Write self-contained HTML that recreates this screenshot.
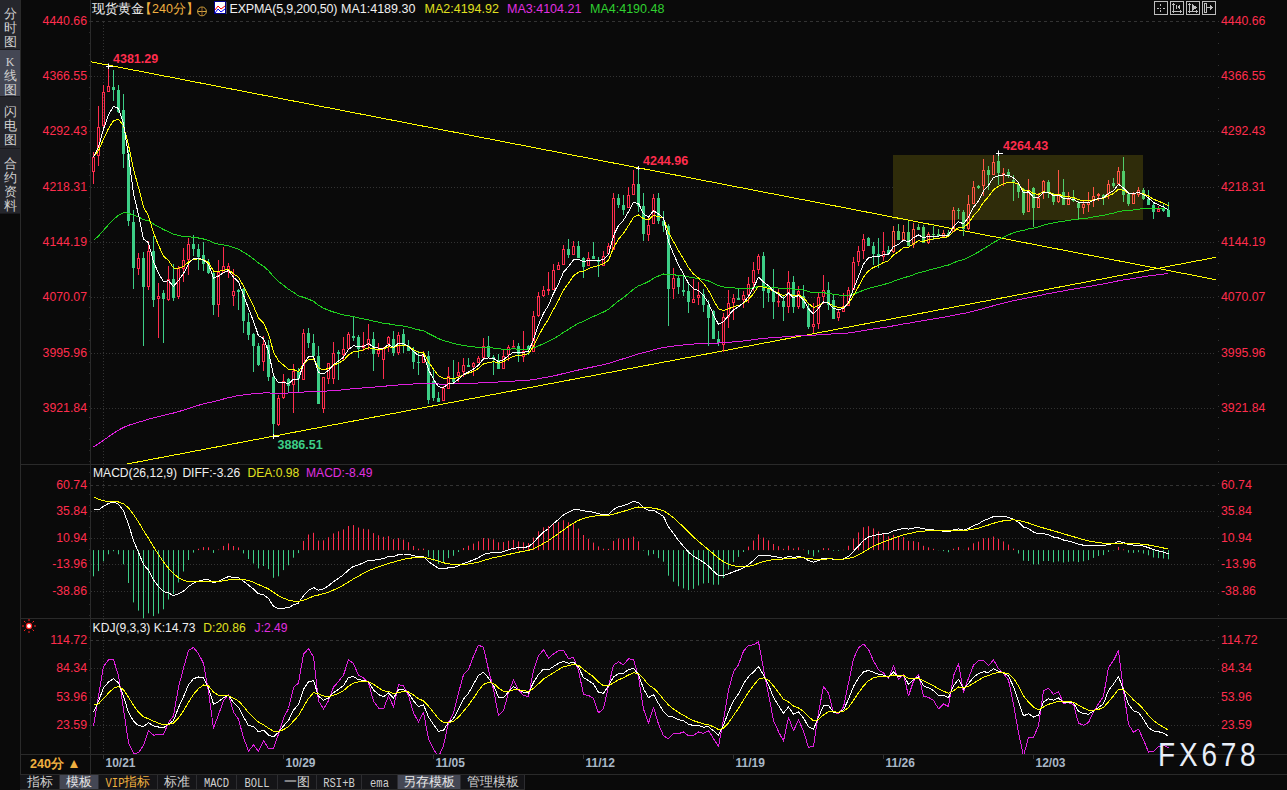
<!DOCTYPE html>
<html><head><meta charset="utf-8">
<style>
*{margin:0;padding:0;box-sizing:border-box}
html,body{width:1287px;height:790px;overflow:hidden;background:#0a0a0a;font-family:"Liberation Sans",sans-serif}
#root{position:relative;width:1287px;height:790px;background:#0a0a0a}
svg{position:absolute;left:0;top:0}
.ll{position:absolute;right:1200px;font-size:12.3px;line-height:14px;color:#ff2d4d;white-space:nowrap}
.rl{position:absolute;left:1221px;font-size:12.3px;line-height:14px;color:#ff2d4d;white-space:nowrap}
.t{position:absolute;white-space:nowrap;font-size:12px;line-height:14px}
.side{position:absolute;left:0;width:20px;color:#d0d0d0;font-size:13px;line-height:14px;text-align:center;padding-top:5px;border-bottom:1px solid #1a1a1e}
.tab{position:absolute;top:775px;height:14px;font-size:12.5px;line-height:15px;color:#cfcfcf;text-align:center;background:#141417;border-right:1px solid #2c2c30}
.date{position:absolute;top:756px;font-size:12px;line-height:14px;font-weight:bold;color:#a9b7c6}
</style></head><body><div id="root">
<svg width="1287" height="790" viewBox="0 0 1287 790">
<defs><clipPath id="mclip"><rect x="91" y="0" width="1127" height="464"/></clipPath><clipPath id="kclip"><rect x="90" y="619" width="1129" height="135"/></clipPath></defs>
<rect x="20" y="0" width="1" height="775" fill="#2a2a2a"/>
<rect x="90" y="0" width="1" height="774" fill="#2a2a2a"/>
<line x1="103.5" y1="22" x2="103.5" y2="754" stroke="#333333" stroke-dasharray="1 2"/>
<line x1="103.5" y1="755" x2="103.5" y2="759" stroke="#333333"/>
<line x1="1218.5" y1="21" x2="1218.5" y2="754" stroke="#333333" stroke-dasharray="1 10"/>
<line x1="89.5" y1="21" x2="89.5" y2="754" stroke="#2a2a2a" stroke-dasharray="1 10"/>
<rect x="20" y="464" width="1267" height="1" fill="#2a2a2a"/>
<rect x="20" y="618" width="1267" height="1" fill="#2a2a2a"/>
<rect x="20" y="754" width="1267" height="1" fill="#2a2a2a"/>
<rect x="20" y="774" width="1267" height="1" fill="#2a2a2a"/><rect x="20" y="789" width="505" height="1" fill="#2a2a2a"/>

<g fill="none" stroke="#bdbdbd" stroke-width="1" shape-rendering="crispEdges">
<rect x="1154.5" y="1.5" width="13" height="13"/><rect x="1170.5" y="1.5" width="13" height="13"/>
<rect x="1186.5" y="1.5" width="13" height="13"/><rect x="1202.5" y="1.5" width="13" height="13"/>
</g>
<g fill="#bdbdbd" shape-rendering="crispEdges">
<rect x="1160" y="4" width="1" height="2"/><rect x="1160" y="10" width="1" height="2"/><rect x="1157" y="8" width="2" height="1"/><rect x="1163" y="8" width="2" height="1"/><rect x="1160" y="8" width="1" height="1"/>
<rect x="1173" y="3" width="1" height="10"/><rect x="1172" y="4" width="3" height="1"/><rect x="1172" y="11" width="10" height="1"/><rect x="1180" y="10" width="1" height="3"/><rect x="1176" y="5" width="1" height="4"/><path d="M1180 4.5L1177 7L1180 9.5Z"/>
<rect x="1189" y="3" width="1" height="10"/><rect x="1188" y="4" width="3" height="1"/><rect x="1188" y="11" width="10" height="1"/><rect x="1196" y="10" width="1" height="3"/><path d="M1192 4L1197 7.5L1192 11Z"/>
<rect x="1204.5" y="3.5" width="2" height="9" fill="none" stroke="#bdbdbd"/><rect x="1207" y="7" width="4" height="1"/><path d="M1210 5L1213 7.5L1210 10Z"/>
</g>
<circle cx="202" cy="11.4" r="4.4" fill="none" stroke="#e0b040" stroke-width="0.9"/>
<line x1="197.5" y1="11.5" x2="206.5" y2="11.5" stroke="#e8b848" stroke-width="0.9"/><line x1="202" y1="7" x2="202" y2="16" stroke="#b07030" stroke-width="0.9"/>
<rect x="215.5" y="2" width="11" height="12" fill="#888"/>
<rect x="214.5" y="1.5" width="11" height="12" fill="#ffffff" stroke="#000088" stroke-width="1"/>
<polyline points="215,10 218,6 221,9 225,6" fill="none" stroke="#ff0000" stroke-width="1"/>
<polyline points="215,13 218,9 221,12 225,9" fill="none" stroke="#0000ff" stroke-width="1"/>
<circle cx="29" cy="626" r="2.6" fill="#ffffff" stroke="#ff2020" stroke-width="1.2"/>
<g stroke="#ff2020" stroke-width="1"><line x1="29" y1="619" x2="29" y2="621"/><line x1="29" y1="631" x2="29" y2="633"/><line x1="22" y1="626" x2="24" y2="626"/><line x1="34" y1="626" x2="36" y2="626"/>
<line x1="24" y1="621" x2="25.5" y2="622.5"/><line x1="32.5" y1="629.5" x2="34" y2="631"/><line x1="34" y1="621" x2="32.5" y2="622.5"/><line x1="24" y1="631" x2="25.5" y2="629.5"/></g>

<line x1="90" y1="21.5" x2="1216" y2="21.5" stroke="#333333" stroke-width="1" stroke-dasharray="3 3"/>
<line x1="91" y1="76.5" x2="1216" y2="76.5" stroke="#333333" stroke-width="1" stroke-dasharray="1 2"/>
<line x1="91" y1="131.5" x2="1216" y2="131.5" stroke="#333333" stroke-width="1" stroke-dasharray="1 2"/>
<line x1="91" y1="187.5" x2="1216" y2="187.5" stroke="#333333" stroke-width="1" stroke-dasharray="1 2"/>
<line x1="91" y1="242.5" x2="1216" y2="242.5" stroke="#333333" stroke-width="1" stroke-dasharray="1 2"/>
<line x1="91" y1="297.5" x2="1216" y2="297.5" stroke="#333333" stroke-width="1" stroke-dasharray="1 2"/>
<line x1="91" y1="353.5" x2="1216" y2="353.5" stroke="#333333" stroke-width="1" stroke-dasharray="1 2"/>
<line x1="91" y1="408.5" x2="1216" y2="408.5" stroke="#333333" stroke-width="1" stroke-dasharray="1 2"/>
<rect x="893" y="155" width="250" height="65" fill="#2f2c0a"/>
<line x1="90" y1="61.6" x2="1216" y2="279.7" stroke="#ffff00" stroke-width="1" shape-rendering="crispEdges" clip-path="url(#mclip)"/>
<line x1="118" y1="465.7" x2="1216" y2="257.3" stroke="#ffff00" stroke-width="1" shape-rendering="crispEdges" clip-path="url(#mclip)"/>
<rect x="93" y="152" width="1" height="5" fill="#ff2d4d"/>
<rect x="93" y="172" width="1" height="12" fill="#ff2d4d"/>
<rect x="92.5" y="157.5" width="2" height="14" fill="none" stroke="#ff2d4d" stroke-width="1"/>
<rect x="98" y="106" width="1" height="21" fill="#ff2d4d"/>
<rect x="98" y="156" width="1" height="10" fill="#ff2d4d"/>
<rect x="97.5" y="127.5" width="2" height="28" fill="none" stroke="#ff2d4d" stroke-width="1"/>
<rect x="103" y="85" width="1" height="7" fill="#ff2d4d"/>
<rect x="103" y="126" width="1" height="1" fill="#ff2d4d"/>
<rect x="102.5" y="92.5" width="2" height="33" fill="none" stroke="#ff2d4d" stroke-width="1"/>
<rect x="108" y="66" width="1" height="20" fill="#ff2d4d"/>
<rect x="107.5" y="86.5" width="2" height="5" fill="none" stroke="#ff2d4d" stroke-width="1"/>
<rect x="113" y="70" width="1" height="31" fill="#3dcf87"/>
<rect x="112" y="87" width="3" height="3" fill="#3dcf87"/>
<rect x="118" y="85" width="1" height="28" fill="#3dcf87"/>
<rect x="117" y="90" width="3" height="22" fill="#3dcf87"/>
<rect x="123" y="94" width="1" height="74" fill="#3dcf87"/>
<rect x="122" y="110" width="3" height="44" fill="#3dcf87"/>
<rect x="128" y="150" width="1" height="76" fill="#3dcf87"/>
<rect x="127" y="154" width="3" height="67" fill="#3dcf87"/>
<rect x="133" y="210" width="1" height="79" fill="#3dcf87"/>
<rect x="132" y="222" width="3" height="46" fill="#3dcf87"/>
<rect x="138" y="253" width="1" height="5" fill="#ff2d4d"/>
<rect x="138" y="269" width="1" height="6" fill="#ff2d4d"/>
<rect x="137.5" y="258.5" width="2" height="10" fill="none" stroke="#ff2d4d" stroke-width="1"/>
<rect x="143" y="252" width="1" height="94" fill="#3dcf87"/>
<rect x="142" y="258" width="3" height="29" fill="#3dcf87"/>
<rect x="148" y="241" width="1" height="10" fill="#ff2d4d"/>
<rect x="148" y="287" width="1" height="3" fill="#ff2d4d"/>
<rect x="147.5" y="251.5" width="2" height="35" fill="none" stroke="#ff2d4d" stroke-width="1"/>
<rect x="153" y="236" width="1" height="71" fill="#3dcf87"/>
<rect x="152" y="251" width="3" height="49" fill="#3dcf87"/>
<rect x="158" y="283" width="1" height="13" fill="#ff2d4d"/>
<rect x="158" y="299" width="1" height="39" fill="#ff2d4d"/>
<rect x="157.5" y="296.5" width="2" height="2" fill="none" stroke="#ff2d4d" stroke-width="1"/>
<rect x="163" y="290" width="1" height="53" fill="#3dcf87"/>
<rect x="162" y="293" width="3" height="6" fill="#3dcf87"/>
<rect x="168" y="266" width="1" height="13" fill="#ff2d4d"/>
<rect x="168" y="300" width="1" height="1" fill="#ff2d4d"/>
<rect x="167.5" y="279.5" width="2" height="20" fill="none" stroke="#ff2d4d" stroke-width="1"/>
<rect x="173" y="264" width="1" height="37" fill="#3dcf87"/>
<rect x="172" y="279" width="3" height="19" fill="#3dcf87"/>
<rect x="178" y="266" width="1" height="2" fill="#ff2d4d"/>
<rect x="178" y="297" width="1" height="2" fill="#ff2d4d"/>
<rect x="177.5" y="268.5" width="2" height="28" fill="none" stroke="#ff2d4d" stroke-width="1"/>
<rect x="183" y="248" width="1" height="12" fill="#ff2d4d"/>
<rect x="183" y="269" width="1" height="13" fill="#ff2d4d"/>
<rect x="182.5" y="260.5" width="2" height="8" fill="none" stroke="#ff2d4d" stroke-width="1"/>
<rect x="188" y="238" width="1" height="6" fill="#ff2d4d"/>
<rect x="188" y="260" width="1" height="15" fill="#ff2d4d"/>
<rect x="187.5" y="244.5" width="2" height="15" fill="none" stroke="#ff2d4d" stroke-width="1"/>
<rect x="193" y="235" width="1" height="21" fill="#3dcf87"/>
<rect x="192" y="244" width="3" height="5" fill="#3dcf87"/>
<rect x="198" y="244" width="1" height="26" fill="#3dcf87"/>
<rect x="197" y="249" width="3" height="8" fill="#3dcf87"/>
<rect x="203" y="242" width="1" height="29" fill="#3dcf87"/>
<rect x="202" y="255" width="3" height="9" fill="#3dcf87"/>
<rect x="208" y="259" width="1" height="15" fill="#3dcf87"/>
<rect x="207" y="262" width="3" height="11" fill="#3dcf87"/>
<rect x="213" y="270" width="1" height="45" fill="#3dcf87"/>
<rect x="212" y="273" width="3" height="32" fill="#3dcf87"/>
<rect x="218" y="260" width="1" height="12" fill="#ff2d4d"/>
<rect x="218" y="305" width="1" height="12" fill="#ff2d4d"/>
<rect x="217.5" y="272.5" width="2" height="32" fill="none" stroke="#ff2d4d" stroke-width="1"/>
<rect x="223" y="247" width="1" height="19" fill="#ff2d4d"/>
<rect x="222.5" y="266.5" width="2" height="6" fill="none" stroke="#ff2d4d" stroke-width="1"/>
<rect x="228" y="263" width="1" height="3" fill="#ff2d4d"/>
<rect x="228" y="271" width="1" height="7" fill="#ff2d4d"/>
<rect x="227.5" y="266.5" width="2" height="4" fill="none" stroke="#ff2d4d" stroke-width="1"/>
<rect x="233" y="269" width="1" height="22" fill="#ff2d4d"/>
<rect x="233" y="296" width="1" height="10" fill="#ff2d4d"/>
<rect x="232.5" y="291.5" width="2" height="4" fill="none" stroke="#ff2d4d" stroke-width="1"/>
<rect x="238" y="289" width="1" height="21" fill="#3dcf87"/>
<rect x="237" y="290" width="3" height="2" fill="#3dcf87"/>
<rect x="243" y="288" width="1" height="45" fill="#3dcf87"/>
<rect x="242" y="289" width="3" height="32" fill="#3dcf87"/>
<rect x="248" y="313" width="1" height="27" fill="#3dcf87"/>
<rect x="247" y="322" width="3" height="13" fill="#3dcf87"/>
<rect x="253" y="333" width="1" height="39" fill="#3dcf87"/>
<rect x="252" y="334" width="3" height="12" fill="#3dcf87"/>
<rect x="258" y="343" width="1" height="23" fill="#3dcf87"/>
<rect x="257" y="346" width="3" height="19" fill="#3dcf87"/>
<rect x="263" y="336" width="1" height="8" fill="#ff2d4d"/>
<rect x="263" y="362" width="1" height="9" fill="#ff2d4d"/>
<rect x="262.5" y="344.5" width="2" height="17" fill="none" stroke="#ff2d4d" stroke-width="1"/>
<rect x="268" y="340" width="1" height="41" fill="#3dcf87"/>
<rect x="267" y="345" width="3" height="32" fill="#3dcf87"/>
<rect x="273" y="374" width="1" height="62" fill="#3dcf87"/>
<rect x="272" y="377" width="3" height="47" fill="#3dcf87"/>
<rect x="278" y="395" width="1" height="3" fill="#ff2d4d"/>
<rect x="278" y="425" width="1" height="1" fill="#ff2d4d"/>
<rect x="277.5" y="398.5" width="2" height="26" fill="none" stroke="#ff2d4d" stroke-width="1"/>
<rect x="283" y="374" width="1" height="7" fill="#ff2d4d"/>
<rect x="283" y="398" width="1" height="1" fill="#ff2d4d"/>
<rect x="282.5" y="381.5" width="2" height="16" fill="none" stroke="#ff2d4d" stroke-width="1"/>
<rect x="288" y="378" width="1" height="14" fill="#3dcf87"/>
<rect x="287" y="379" width="3" height="7" fill="#3dcf87"/>
<rect x="293" y="364" width="1" height="7" fill="#ff2d4d"/>
<rect x="293" y="385" width="1" height="28" fill="#ff2d4d"/>
<rect x="292.5" y="371.5" width="2" height="13" fill="none" stroke="#ff2d4d" stroke-width="1"/>
<rect x="298" y="368" width="1" height="24" fill="#3dcf87"/>
<rect x="297" y="372" width="3" height="7" fill="#3dcf87"/>
<rect x="303" y="329" width="1" height="4" fill="#ff2d4d"/>
<rect x="302.5" y="333.5" width="2" height="46" fill="none" stroke="#ff2d4d" stroke-width="1"/>
<rect x="308" y="328" width="1" height="20" fill="#3dcf87"/>
<rect x="307" y="333" width="3" height="10" fill="#3dcf87"/>
<rect x="313" y="334" width="1" height="22" fill="#3dcf87"/>
<rect x="312" y="343" width="3" height="13" fill="#3dcf87"/>
<rect x="318" y="346" width="1" height="58" fill="#3dcf87"/>
<rect x="317" y="356" width="3" height="48" fill="#3dcf87"/>
<rect x="323" y="409" width="1" height="4" fill="#ff2d4d"/>
<rect x="322.5" y="377.5" width="2" height="31" fill="none" stroke="#ff2d4d" stroke-width="1"/>
<rect x="328" y="379" width="1" height="5" fill="#ff2d4d"/>
<rect x="327.5" y="363.5" width="2" height="15" fill="none" stroke="#ff2d4d" stroke-width="1"/>
<rect x="333" y="342" width="1" height="11" fill="#ff2d4d"/>
<rect x="333" y="379" width="1" height="5" fill="#ff2d4d"/>
<rect x="332.5" y="353.5" width="2" height="25" fill="none" stroke="#ff2d4d" stroke-width="1"/>
<rect x="338" y="350" width="1" height="30" fill="#3dcf87"/>
<rect x="337" y="352" width="3" height="2" fill="#3dcf87"/>
<rect x="343" y="337" width="1" height="12" fill="#ff2d4d"/>
<rect x="343" y="355" width="1" height="5" fill="#ff2d4d"/>
<rect x="342.5" y="349.5" width="2" height="5" fill="none" stroke="#ff2d4d" stroke-width="1"/>
<rect x="348" y="332" width="1" height="2" fill="#ff2d4d"/>
<rect x="347.5" y="334.5" width="2" height="14" fill="none" stroke="#ff2d4d" stroke-width="1"/>
<rect x="353" y="317" width="1" height="24" fill="#3dcf87"/>
<rect x="352" y="336" width="3" height="2" fill="#3dcf87"/>
<rect x="358" y="335" width="1" height="23" fill="#3dcf87"/>
<rect x="357" y="337" width="3" height="12" fill="#3dcf87"/>
<rect x="363" y="332" width="1" height="13" fill="#ff2d4d"/>
<rect x="363" y="348" width="1" height="3" fill="#ff2d4d"/>
<rect x="362.5" y="345.5" width="2" height="2" fill="none" stroke="#ff2d4d" stroke-width="1"/>
<rect x="368" y="324" width="1" height="15" fill="#ff2d4d"/>
<rect x="368" y="344" width="1" height="6" fill="#ff2d4d"/>
<rect x="367.5" y="339.5" width="2" height="4" fill="none" stroke="#ff2d4d" stroke-width="1"/>
<rect x="373" y="332" width="1" height="39" fill="#3dcf87"/>
<rect x="372" y="339" width="3" height="15" fill="#3dcf87"/>
<rect x="378" y="343" width="1" height="7" fill="#ff2d4d"/>
<rect x="378" y="354" width="1" height="3" fill="#ff2d4d"/>
<rect x="377.5" y="350.5" width="2" height="3" fill="none" stroke="#ff2d4d" stroke-width="1"/>
<rect x="383" y="347" width="1" height="1" fill="#ff2d4d"/>
<rect x="383" y="360" width="1" height="19" fill="#ff2d4d"/>
<rect x="382.5" y="348.5" width="2" height="11" fill="none" stroke="#ff2d4d" stroke-width="1"/>
<rect x="388" y="336" width="1" height="1" fill="#ff2d4d"/>
<rect x="388" y="344" width="1" height="8" fill="#ff2d4d"/>
<rect x="387.5" y="337.5" width="2" height="6" fill="none" stroke="#ff2d4d" stroke-width="1"/>
<rect x="393" y="331" width="1" height="25" fill="#3dcf87"/>
<rect x="392" y="339" width="3" height="14" fill="#3dcf87"/>
<rect x="398" y="332" width="1" height="3" fill="#ff2d4d"/>
<rect x="398" y="353" width="1" height="2" fill="#ff2d4d"/>
<rect x="397.5" y="335.5" width="2" height="17" fill="none" stroke="#ff2d4d" stroke-width="1"/>
<rect x="403" y="329" width="1" height="24" fill="#3dcf87"/>
<rect x="402" y="334" width="3" height="11" fill="#3dcf87"/>
<rect x="408" y="340" width="1" height="11" fill="#3dcf87"/>
<rect x="407" y="346" width="3" height="5" fill="#3dcf87"/>
<rect x="413" y="347" width="1" height="22" fill="#3dcf87"/>
<rect x="412" y="350" width="3" height="12" fill="#3dcf87"/>
<rect x="418" y="351" width="1" height="24" fill="#3dcf87"/>
<rect x="417" y="362" width="3" height="1" fill="#3dcf87"/>
<rect x="423" y="351" width="1" height="3" fill="#ff2d4d"/>
<rect x="422.5" y="354.5" width="2" height="8" fill="none" stroke="#ff2d4d" stroke-width="1"/>
<rect x="428" y="351" width="1" height="53" fill="#3dcf87"/>
<rect x="427" y="356" width="3" height="44" fill="#3dcf87"/>
<rect x="433" y="368" width="1" height="33" fill="#3dcf87"/>
<rect x="432" y="381" width="3" height="17" fill="#3dcf87"/>
<rect x="438" y="392" width="1" height="10" fill="#3dcf87"/>
<rect x="437" y="398" width="3" height="4" fill="#3dcf87"/>
<rect x="443" y="386" width="1" height="2" fill="#ff2d4d"/>
<rect x="442.5" y="388.5" width="2" height="12" fill="none" stroke="#ff2d4d" stroke-width="1"/>
<rect x="448" y="367" width="1" height="9" fill="#ff2d4d"/>
<rect x="447.5" y="376.5" width="2" height="12" fill="none" stroke="#ff2d4d" stroke-width="1"/>
<rect x="453" y="360" width="1" height="22" fill="#3dcf87"/>
<rect x="452" y="378" width="3" height="4" fill="#3dcf87"/>
<rect x="458" y="362" width="1" height="10" fill="#ff2d4d"/>
<rect x="458" y="376" width="1" height="6" fill="#ff2d4d"/>
<rect x="457.5" y="372.5" width="2" height="3" fill="none" stroke="#ff2d4d" stroke-width="1"/>
<rect x="463" y="358" width="1" height="7" fill="#ff2d4d"/>
<rect x="463" y="372" width="1" height="5" fill="#ff2d4d"/>
<rect x="462.5" y="365.5" width="2" height="6" fill="none" stroke="#ff2d4d" stroke-width="1"/>
<rect x="468" y="358" width="1" height="9" fill="#3dcf87"/>
<rect x="467" y="365" width="3" height="2" fill="#3dcf87"/>
<rect x="473" y="362" width="1" height="1" fill="#ff2d4d"/>
<rect x="473" y="367" width="1" height="9" fill="#ff2d4d"/>
<rect x="472.5" y="363.5" width="2" height="3" fill="none" stroke="#ff2d4d" stroke-width="1"/>
<rect x="478" y="356" width="1" height="2" fill="#ff2d4d"/>
<rect x="477.5" y="358.5" width="2" height="4" fill="none" stroke="#ff2d4d" stroke-width="1"/>
<rect x="483" y="338" width="1" height="8" fill="#ff2d4d"/>
<rect x="482.5" y="346.5" width="2" height="11" fill="none" stroke="#ff2d4d" stroke-width="1"/>
<rect x="488" y="336" width="1" height="22" fill="#3dcf87"/>
<rect x="487" y="346" width="3" height="11" fill="#3dcf87"/>
<rect x="493" y="355" width="1" height="20" fill="#3dcf87"/>
<rect x="492" y="357" width="3" height="1" fill="#3dcf87"/>
<rect x="498" y="354" width="1" height="15" fill="#3dcf87"/>
<rect x="497" y="360" width="3" height="9" fill="#3dcf87"/>
<rect x="503" y="350" width="1" height="6" fill="#ff2d4d"/>
<rect x="502.5" y="356.5" width="2" height="12" fill="none" stroke="#ff2d4d" stroke-width="1"/>
<rect x="508" y="345" width="1" height="2" fill="#ff2d4d"/>
<rect x="508" y="355" width="1" height="6" fill="#ff2d4d"/>
<rect x="507.5" y="347.5" width="2" height="7" fill="none" stroke="#ff2d4d" stroke-width="1"/>
<rect x="513" y="340" width="1" height="6" fill="#ff2d4d"/>
<rect x="512.5" y="346.5" width="2" height="0.5" fill="none" stroke="#ff2d4d" stroke-width="1"/>
<rect x="518" y="343" width="1" height="19" fill="#3dcf87"/>
<rect x="517" y="346" width="3" height="8" fill="#3dcf87"/>
<rect x="523" y="331" width="1" height="20" fill="#ff2d4d"/>
<rect x="523" y="357" width="1" height="5" fill="#ff2d4d"/>
<rect x="522.5" y="351.5" width="2" height="5" fill="none" stroke="#ff2d4d" stroke-width="1"/>
<rect x="528" y="345" width="1" height="10" fill="#3dcf87"/>
<rect x="527" y="346" width="3" height="4" fill="#3dcf87"/>
<rect x="533" y="311" width="1" height="5" fill="#ff2d4d"/>
<rect x="532.5" y="316.5" width="2" height="35" fill="none" stroke="#ff2d4d" stroke-width="1"/>
<rect x="538" y="292" width="1" height="4" fill="#ff2d4d"/>
<rect x="538" y="316" width="1" height="1" fill="#ff2d4d"/>
<rect x="537.5" y="296.5" width="2" height="19" fill="none" stroke="#ff2d4d" stroke-width="1"/>
<rect x="543" y="286" width="1" height="4" fill="#ff2d4d"/>
<rect x="543" y="296" width="1" height="1" fill="#ff2d4d"/>
<rect x="542.5" y="290.5" width="2" height="5" fill="none" stroke="#ff2d4d" stroke-width="1"/>
<rect x="548" y="272" width="1" height="17" fill="#ff2d4d"/>
<rect x="548" y="291" width="1" height="4" fill="#ff2d4d"/>
<rect x="547.5" y="289.5" width="2" height="1" fill="none" stroke="#ff2d4d" stroke-width="1"/>
<rect x="553" y="264" width="1" height="6" fill="#ff2d4d"/>
<rect x="552.5" y="270.5" width="2" height="19" fill="none" stroke="#ff2d4d" stroke-width="1"/>
<rect x="558" y="262" width="1" height="3" fill="#ff2d4d"/>
<rect x="557.5" y="265.5" width="2" height="4" fill="none" stroke="#ff2d4d" stroke-width="1"/>
<rect x="563" y="245" width="1" height="4" fill="#ff2d4d"/>
<rect x="562.5" y="249.5" width="2" height="15" fill="none" stroke="#ff2d4d" stroke-width="1"/>
<rect x="568" y="239" width="1" height="19" fill="#3dcf87"/>
<rect x="567" y="249" width="3" height="6" fill="#3dcf87"/>
<rect x="573" y="241" width="1" height="5" fill="#ff2d4d"/>
<rect x="572.5" y="246.5" width="2" height="8" fill="none" stroke="#ff2d4d" stroke-width="1"/>
<rect x="578" y="241" width="1" height="17" fill="#3dcf87"/>
<rect x="577" y="246" width="3" height="12" fill="#3dcf87"/>
<rect x="583" y="257" width="1" height="21" fill="#3dcf87"/>
<rect x="582" y="258" width="3" height="9" fill="#3dcf87"/>
<rect x="588" y="252" width="1" height="6" fill="#ff2d4d"/>
<rect x="587.5" y="258.5" width="2" height="7" fill="none" stroke="#ff2d4d" stroke-width="1"/>
<rect x="593" y="242" width="1" height="17" fill="#3dcf87"/>
<rect x="592" y="256" width="3" height="3" fill="#3dcf87"/>
<rect x="598" y="257" width="1" height="20" fill="#3dcf87"/>
<rect x="597" y="260" width="3" height="2" fill="#3dcf87"/>
<rect x="603" y="251" width="1" height="5" fill="#ff2d4d"/>
<rect x="602.5" y="256.5" width="2" height="9" fill="none" stroke="#ff2d4d" stroke-width="1"/>
<rect x="608" y="243" width="1" height="3" fill="#ff2d4d"/>
<rect x="607.5" y="246.5" width="2" height="7" fill="none" stroke="#ff2d4d" stroke-width="1"/>
<rect x="613" y="193" width="1" height="5" fill="#ff2d4d"/>
<rect x="612.5" y="198.5" width="2" height="51" fill="none" stroke="#ff2d4d" stroke-width="1"/>
<rect x="618" y="194" width="1" height="14" fill="#3dcf87"/>
<rect x="617" y="198" width="3" height="7" fill="#3dcf87"/>
<rect x="623" y="195" width="1" height="20" fill="#3dcf87"/>
<rect x="622" y="205" width="3" height="5" fill="#3dcf87"/>
<rect x="628" y="187" width="1" height="8" fill="#ff2d4d"/>
<rect x="627.5" y="195.5" width="2" height="12" fill="none" stroke="#ff2d4d" stroke-width="1"/>
<rect x="633" y="170" width="1" height="14" fill="#ff2d4d"/>
<rect x="632.5" y="184.5" width="2" height="10" fill="none" stroke="#ff2d4d" stroke-width="1"/>
<rect x="638" y="168" width="1" height="44" fill="#3dcf87"/>
<rect x="637" y="184" width="3" height="22" fill="#3dcf87"/>
<rect x="643" y="193" width="1" height="48" fill="#3dcf87"/>
<rect x="642" y="206" width="3" height="28" fill="#3dcf87"/>
<rect x="648" y="217" width="1" height="8" fill="#ff2d4d"/>
<rect x="648" y="235" width="1" height="6" fill="#ff2d4d"/>
<rect x="647.5" y="225.5" width="2" height="9" fill="none" stroke="#ff2d4d" stroke-width="1"/>
<rect x="653" y="194" width="1" height="4" fill="#ff2d4d"/>
<rect x="652.5" y="198.5" width="2" height="25" fill="none" stroke="#ff2d4d" stroke-width="1"/>
<rect x="658" y="193" width="1" height="31" fill="#3dcf87"/>
<rect x="657" y="198" width="3" height="23" fill="#3dcf87"/>
<rect x="663" y="211" width="1" height="21" fill="#3dcf87"/>
<rect x="662" y="221" width="3" height="5" fill="#3dcf87"/>
<rect x="668" y="224" width="1" height="102" fill="#3dcf87"/>
<rect x="667" y="226" width="3" height="63" fill="#3dcf87"/>
<rect x="673" y="268" width="1" height="10" fill="#ff2d4d"/>
<rect x="673" y="289" width="1" height="10" fill="#ff2d4d"/>
<rect x="672.5" y="278.5" width="2" height="10" fill="none" stroke="#ff2d4d" stroke-width="1"/>
<rect x="678" y="276" width="1" height="18" fill="#3dcf87"/>
<rect x="677" y="278" width="3" height="9" fill="#3dcf87"/>
<rect x="683" y="274" width="1" height="22" fill="#3dcf87"/>
<rect x="682" y="290" width="3" height="2" fill="#3dcf87"/>
<rect x="688" y="284" width="1" height="29" fill="#3dcf87"/>
<rect x="687" y="291" width="3" height="11" fill="#3dcf87"/>
<rect x="693" y="279" width="1" height="20" fill="#ff2d4d"/>
<rect x="692.5" y="299.5" width="2" height="3" fill="none" stroke="#ff2d4d" stroke-width="1"/>
<rect x="698" y="282" width="1" height="13" fill="#ff2d4d"/>
<rect x="698" y="298" width="1" height="7" fill="#ff2d4d"/>
<rect x="697.5" y="295.5" width="2" height="2" fill="none" stroke="#ff2d4d" stroke-width="1"/>
<rect x="703" y="289" width="1" height="23" fill="#3dcf87"/>
<rect x="702" y="294" width="3" height="11" fill="#3dcf87"/>
<rect x="708" y="300" width="1" height="46" fill="#3dcf87"/>
<rect x="707" y="305" width="3" height="13" fill="#3dcf87"/>
<rect x="713" y="310" width="1" height="29" fill="#3dcf87"/>
<rect x="712" y="311" width="3" height="28" fill="#3dcf87"/>
<rect x="718" y="331" width="1" height="15" fill="#3dcf87"/>
<rect x="717" y="339" width="3" height="4" fill="#3dcf87"/>
<rect x="723" y="313" width="1" height="4" fill="#ff2d4d"/>
<rect x="723" y="345" width="1" height="7" fill="#ff2d4d"/>
<rect x="722.5" y="317.5" width="2" height="27" fill="none" stroke="#ff2d4d" stroke-width="1"/>
<rect x="728" y="290" width="1" height="13" fill="#ff2d4d"/>
<rect x="728" y="317" width="1" height="11" fill="#ff2d4d"/>
<rect x="727.5" y="303.5" width="2" height="13" fill="none" stroke="#ff2d4d" stroke-width="1"/>
<rect x="733" y="294" width="1" height="4" fill="#ff2d4d"/>
<rect x="733" y="303" width="1" height="17" fill="#ff2d4d"/>
<rect x="732.5" y="298.5" width="2" height="4" fill="none" stroke="#ff2d4d" stroke-width="1"/>
<rect x="738" y="288" width="1" height="12" fill="#3dcf87"/>
<rect x="737" y="298" width="3" height="2" fill="#3dcf87"/>
<rect x="743" y="291" width="1" height="4" fill="#ff2d4d"/>
<rect x="743" y="300" width="1" height="8" fill="#ff2d4d"/>
<rect x="742.5" y="295.5" width="2" height="4" fill="none" stroke="#ff2d4d" stroke-width="1"/>
<rect x="748" y="277" width="1" height="7" fill="#ff2d4d"/>
<rect x="748" y="295" width="1" height="8" fill="#ff2d4d"/>
<rect x="747.5" y="284.5" width="2" height="10" fill="none" stroke="#ff2d4d" stroke-width="1"/>
<rect x="753" y="262" width="1" height="8" fill="#ff2d4d"/>
<rect x="753" y="283" width="1" height="8" fill="#ff2d4d"/>
<rect x="752.5" y="270.5" width="2" height="12" fill="none" stroke="#ff2d4d" stroke-width="1"/>
<rect x="758" y="254" width="1" height="2" fill="#ff2d4d"/>
<rect x="758" y="270" width="1" height="4" fill="#ff2d4d"/>
<rect x="757.5" y="256.5" width="2" height="13" fill="none" stroke="#ff2d4d" stroke-width="1"/>
<rect x="763" y="252" width="1" height="56" fill="#3dcf87"/>
<rect x="762" y="256" width="3" height="35" fill="#3dcf87"/>
<rect x="768" y="286" width="1" height="16" fill="#3dcf87"/>
<rect x="767" y="288" width="3" height="5" fill="#3dcf87"/>
<rect x="773" y="269" width="1" height="50" fill="#3dcf87"/>
<rect x="772" y="291" width="3" height="11" fill="#3dcf87"/>
<rect x="778" y="289" width="1" height="12" fill="#ff2d4d"/>
<rect x="778" y="302" width="1" height="5" fill="#ff2d4d"/>
<rect x="777.5" y="301.5" width="2" height="0.5" fill="none" stroke="#ff2d4d" stroke-width="1"/>
<rect x="783" y="295" width="1" height="26" fill="#3dcf87"/>
<rect x="782" y="301" width="3" height="6" fill="#3dcf87"/>
<rect x="788" y="271" width="1" height="11" fill="#ff2d4d"/>
<rect x="788" y="307" width="1" height="6" fill="#ff2d4d"/>
<rect x="787.5" y="282.5" width="2" height="24" fill="none" stroke="#ff2d4d" stroke-width="1"/>
<rect x="793" y="276" width="1" height="37" fill="#3dcf87"/>
<rect x="792" y="282" width="3" height="25" fill="#3dcf87"/>
<rect x="798" y="286" width="1" height="5" fill="#ff2d4d"/>
<rect x="798" y="307" width="1" height="2" fill="#ff2d4d"/>
<rect x="797.5" y="291.5" width="2" height="15" fill="none" stroke="#ff2d4d" stroke-width="1"/>
<rect x="803" y="285" width="1" height="24" fill="#3dcf87"/>
<rect x="802" y="296" width="3" height="12" fill="#3dcf87"/>
<rect x="808" y="304" width="1" height="25" fill="#3dcf87"/>
<rect x="807" y="308" width="3" height="19" fill="#3dcf87"/>
<rect x="813" y="303" width="1" height="21" fill="#ff2d4d"/>
<rect x="813" y="327" width="1" height="6" fill="#ff2d4d"/>
<rect x="812.5" y="324.5" width="2" height="2" fill="none" stroke="#ff2d4d" stroke-width="1"/>
<rect x="818" y="292" width="1" height="5" fill="#ff2d4d"/>
<rect x="818" y="324" width="1" height="5" fill="#ff2d4d"/>
<rect x="817.5" y="297.5" width="2" height="26" fill="none" stroke="#ff2d4d" stroke-width="1"/>
<rect x="823" y="275" width="1" height="15" fill="#ff2d4d"/>
<rect x="823" y="297" width="1" height="7" fill="#ff2d4d"/>
<rect x="822.5" y="290.5" width="2" height="6" fill="none" stroke="#ff2d4d" stroke-width="1"/>
<rect x="828" y="282" width="1" height="28" fill="#3dcf87"/>
<rect x="827" y="290" width="3" height="15" fill="#3dcf87"/>
<rect x="833" y="294" width="1" height="25" fill="#3dcf87"/>
<rect x="832" y="300" width="3" height="19" fill="#3dcf87"/>
<rect x="838" y="310" width="1" height="2" fill="#ff2d4d"/>
<rect x="838" y="318" width="1" height="3" fill="#ff2d4d"/>
<rect x="837.5" y="312.5" width="2" height="5" fill="none" stroke="#ff2d4d" stroke-width="1"/>
<rect x="843" y="293" width="1" height="13" fill="#ff2d4d"/>
<rect x="842.5" y="306.5" width="2" height="5" fill="none" stroke="#ff2d4d" stroke-width="1"/>
<rect x="848" y="287" width="1" height="3" fill="#ff2d4d"/>
<rect x="847.5" y="290.5" width="2" height="15" fill="none" stroke="#ff2d4d" stroke-width="1"/>
<rect x="853" y="257" width="1" height="5" fill="#ff2d4d"/>
<rect x="852.5" y="262.5" width="2" height="27" fill="none" stroke="#ff2d4d" stroke-width="1"/>
<rect x="858" y="246" width="1" height="5" fill="#ff2d4d"/>
<rect x="858" y="262" width="1" height="4" fill="#ff2d4d"/>
<rect x="857.5" y="251.5" width="2" height="10" fill="none" stroke="#ff2d4d" stroke-width="1"/>
<rect x="863" y="234" width="1" height="5" fill="#ff2d4d"/>
<rect x="863" y="251" width="1" height="8" fill="#ff2d4d"/>
<rect x="862.5" y="239.5" width="2" height="11" fill="none" stroke="#ff2d4d" stroke-width="1"/>
<rect x="868" y="237" width="1" height="9" fill="#3dcf87"/>
<rect x="867" y="238" width="3" height="8" fill="#3dcf87"/>
<rect x="873" y="242" width="1" height="23" fill="#3dcf87"/>
<rect x="872" y="246" width="3" height="8" fill="#3dcf87"/>
<rect x="878" y="238" width="1" height="30" fill="#3dcf87"/>
<rect x="877" y="254" width="3" height="3" fill="#3dcf87"/>
<rect x="883" y="232" width="1" height="19" fill="#ff2d4d"/>
<rect x="883" y="257" width="1" height="4" fill="#ff2d4d"/>
<rect x="882.5" y="251.5" width="2" height="5" fill="none" stroke="#ff2d4d" stroke-width="1"/>
<rect x="888" y="246" width="1" height="8" fill="#3dcf87"/>
<rect x="887" y="250" width="3" height="4" fill="#3dcf87"/>
<rect x="893" y="226" width="1" height="5" fill="#ff5544"/>
<rect x="893" y="252" width="1" height="1" fill="#ff5544"/>
<rect x="892.5" y="231.5" width="2" height="20" fill="none" stroke="#ff5544" stroke-width="1"/>
<rect x="898" y="224" width="1" height="16" fill="#52cc6a"/>
<rect x="897" y="231" width="3" height="9" fill="#52cc6a"/>
<rect x="903" y="225" width="1" height="7" fill="#ff5544"/>
<rect x="902.5" y="232.5" width="2" height="7" fill="none" stroke="#ff5544" stroke-width="1"/>
<rect x="908" y="221" width="1" height="25" fill="#52cc6a"/>
<rect x="907" y="232" width="3" height="14" fill="#52cc6a"/>
<rect x="913" y="223" width="1" height="6" fill="#ff5544"/>
<rect x="913" y="245" width="1" height="3" fill="#ff5544"/>
<rect x="912.5" y="229.5" width="2" height="15" fill="none" stroke="#ff5544" stroke-width="1"/>
<rect x="918" y="224" width="1" height="6" fill="#52cc6a"/>
<rect x="917" y="227" width="3" height="3" fill="#52cc6a"/>
<rect x="923" y="225" width="1" height="18" fill="#52cc6a"/>
<rect x="922" y="227" width="3" height="16" fill="#52cc6a"/>
<rect x="928" y="232" width="1" height="2" fill="#ff5544"/>
<rect x="928" y="243" width="1" height="1" fill="#ff5544"/>
<rect x="927.5" y="234.5" width="2" height="8" fill="none" stroke="#ff5544" stroke-width="1"/>
<rect x="933" y="226" width="1" height="14" fill="#52cc6a"/>
<rect x="932" y="234" width="3" height="1" fill="#52cc6a"/>
<rect x="938" y="229" width="1" height="8" fill="#52cc6a"/>
<rect x="937" y="234" width="3" height="2" fill="#52cc6a"/>
<rect x="943" y="230" width="1" height="3" fill="#ff5544"/>
<rect x="942.5" y="233.5" width="2" height="3" fill="none" stroke="#ff5544" stroke-width="1"/>
<rect x="948" y="230" width="1" height="6" fill="#52cc6a"/>
<rect x="947" y="233" width="3" height="2" fill="#52cc6a"/>
<rect x="953" y="207" width="1" height="3" fill="#ff5544"/>
<rect x="952.5" y="210.5" width="2" height="21" fill="none" stroke="#ff5544" stroke-width="1"/>
<rect x="958" y="208" width="1" height="11" fill="#52cc6a"/>
<rect x="957" y="210" width="3" height="1" fill="#52cc6a"/>
<rect x="963" y="210" width="1" height="26" fill="#52cc6a"/>
<rect x="962" y="212" width="3" height="17" fill="#52cc6a"/>
<rect x="968" y="195" width="1" height="9" fill="#ff5544"/>
<rect x="968" y="229" width="1" height="1" fill="#ff5544"/>
<rect x="967.5" y="204.5" width="2" height="24" fill="none" stroke="#ff5544" stroke-width="1"/>
<rect x="973" y="181" width="1" height="6" fill="#ff5544"/>
<rect x="972.5" y="187.5" width="2" height="16" fill="none" stroke="#ff5544" stroke-width="1"/>
<rect x="978" y="185" width="1" height="4" fill="#52cc6a"/>
<rect x="977" y="186" width="3" height="2" fill="#52cc6a"/>
<rect x="983" y="159" width="1" height="11" fill="#ff5544"/>
<rect x="983" y="186" width="1" height="10" fill="#ff5544"/>
<rect x="982.5" y="170.5" width="2" height="15" fill="none" stroke="#ff5544" stroke-width="1"/>
<rect x="988" y="166" width="1" height="24" fill="#52cc6a"/>
<rect x="987" y="170" width="3" height="5" fill="#52cc6a"/>
<rect x="993" y="155" width="1" height="7" fill="#ff5544"/>
<rect x="992.5" y="162.5" width="2" height="12" fill="none" stroke="#ff5544" stroke-width="1"/>
<rect x="998" y="153" width="1" height="32" fill="#52cc6a"/>
<rect x="997" y="161" width="3" height="12" fill="#52cc6a"/>
<rect x="1003" y="168" width="1" height="5" fill="#ff5544"/>
<rect x="1003" y="175" width="1" height="11" fill="#ff5544"/>
<rect x="1002.5" y="173.5" width="2" height="1" fill="none" stroke="#ff5544" stroke-width="1"/>
<rect x="1008" y="169" width="1" height="9" fill="#52cc6a"/>
<rect x="1007" y="172" width="3" height="4" fill="#52cc6a"/>
<rect x="1013" y="175" width="1" height="26" fill="#52cc6a"/>
<rect x="1012" y="180" width="3" height="3" fill="#52cc6a"/>
<rect x="1018" y="183" width="1" height="15" fill="#52cc6a"/>
<rect x="1017" y="184" width="3" height="8" fill="#52cc6a"/>
<rect x="1023" y="188" width="1" height="27" fill="#52cc6a"/>
<rect x="1022" y="189" width="3" height="24" fill="#52cc6a"/>
<rect x="1028" y="179" width="1" height="11" fill="#ff5544"/>
<rect x="1027.5" y="190.5" width="2" height="21" fill="none" stroke="#ff5544" stroke-width="1"/>
<rect x="1033" y="187" width="1" height="40" fill="#52cc6a"/>
<rect x="1032" y="188" width="3" height="20" fill="#52cc6a"/>
<rect x="1038" y="193" width="1" height="5" fill="#ff5544"/>
<rect x="1037.5" y="198.5" width="2" height="9" fill="none" stroke="#ff5544" stroke-width="1"/>
<rect x="1043" y="180" width="1" height="1" fill="#ff5544"/>
<rect x="1043" y="193" width="1" height="6" fill="#ff5544"/>
<rect x="1042.5" y="181.5" width="2" height="11" fill="none" stroke="#ff5544" stroke-width="1"/>
<rect x="1048" y="180" width="1" height="18" fill="#52cc6a"/>
<rect x="1047" y="182" width="3" height="11" fill="#52cc6a"/>
<rect x="1053" y="193" width="1" height="12" fill="#52cc6a"/>
<rect x="1052" y="195" width="3" height="7" fill="#52cc6a"/>
<rect x="1058" y="170" width="1" height="24" fill="#ff5544"/>
<rect x="1058" y="202" width="1" height="1" fill="#ff5544"/>
<rect x="1057.5" y="194.5" width="2" height="7" fill="none" stroke="#ff5544" stroke-width="1"/>
<rect x="1063" y="179" width="1" height="26" fill="#52cc6a"/>
<rect x="1062" y="192" width="3" height="13" fill="#52cc6a"/>
<rect x="1068" y="192" width="1" height="7" fill="#ff5544"/>
<rect x="1067.5" y="199.5" width="2" height="5" fill="none" stroke="#ff5544" stroke-width="1"/>
<rect x="1073" y="190" width="1" height="12" fill="#52cc6a"/>
<rect x="1072" y="197" width="3" height="4" fill="#52cc6a"/>
<rect x="1078" y="201" width="1" height="18" fill="#52cc6a"/>
<rect x="1077" y="203" width="3" height="5" fill="#52cc6a"/>
<rect x="1083" y="200" width="1" height="4" fill="#ff5544"/>
<rect x="1083" y="208" width="1" height="6" fill="#ff5544"/>
<rect x="1082.5" y="204.5" width="2" height="3" fill="none" stroke="#ff5544" stroke-width="1"/>
<rect x="1088" y="192" width="1" height="10" fill="#ff5544"/>
<rect x="1088" y="205" width="1" height="7" fill="#ff5544"/>
<rect x="1087.5" y="202.5" width="2" height="2" fill="none" stroke="#ff5544" stroke-width="1"/>
<rect x="1093" y="187" width="1" height="9" fill="#ff5544"/>
<rect x="1093" y="201" width="1" height="6" fill="#ff5544"/>
<rect x="1092.5" y="196.5" width="2" height="4" fill="none" stroke="#ff5544" stroke-width="1"/>
<rect x="1098" y="193" width="1" height="1" fill="#ff5544"/>
<rect x="1098" y="196" width="1" height="5" fill="#ff5544"/>
<rect x="1097.5" y="194.5" width="2" height="1" fill="none" stroke="#ff5544" stroke-width="1"/>
<rect x="1103" y="194" width="1" height="11" fill="#52cc6a"/>
<rect x="1102" y="195" width="3" height="2" fill="#52cc6a"/>
<rect x="1108" y="180" width="1" height="4" fill="#ff5544"/>
<rect x="1108" y="194" width="1" height="5" fill="#ff5544"/>
<rect x="1107.5" y="184.5" width="2" height="9" fill="none" stroke="#ff5544" stroke-width="1"/>
<rect x="1113" y="178" width="1" height="10" fill="#52cc6a"/>
<rect x="1112" y="183" width="3" height="3" fill="#52cc6a"/>
<rect x="1118" y="167" width="1" height="4" fill="#ff5544"/>
<rect x="1117.5" y="171.5" width="2" height="12" fill="none" stroke="#ff5544" stroke-width="1"/>
<rect x="1123" y="157" width="1" height="45" fill="#52cc6a"/>
<rect x="1122" y="171" width="3" height="24" fill="#52cc6a"/>
<rect x="1128" y="192" width="1" height="14" fill="#52cc6a"/>
<rect x="1127" y="194" width="3" height="10" fill="#52cc6a"/>
<rect x="1133" y="192" width="1" height="2" fill="#ff5544"/>
<rect x="1132.5" y="194.5" width="2" height="9" fill="none" stroke="#ff5544" stroke-width="1"/>
<rect x="1138" y="187" width="1" height="3" fill="#ff5544"/>
<rect x="1138" y="195" width="1" height="2" fill="#ff5544"/>
<rect x="1137.5" y="190.5" width="2" height="4" fill="none" stroke="#ff5544" stroke-width="1"/>
<rect x="1143" y="188" width="1" height="12" fill="#52cc6a"/>
<rect x="1142" y="190" width="3" height="9" fill="#52cc6a"/>
<rect x="1148" y="190" width="1" height="15" fill="#3dcf87"/>
<rect x="1147" y="199" width="3" height="6" fill="#3dcf87"/>
<rect x="1153" y="203" width="1" height="16" fill="#3dcf87"/>
<rect x="1152" y="205" width="3" height="7" fill="#3dcf87"/>
<rect x="1158" y="206" width="1" height="3" fill="#ff2d4d"/>
<rect x="1157.5" y="209.5" width="2" height="2" fill="none" stroke="#ff2d4d" stroke-width="1"/>
<rect x="1163" y="204" width="1" height="8" fill="#3dcf87"/>
<rect x="1162" y="208" width="3" height="3" fill="#3dcf87"/>
<rect x="1168" y="202" width="1" height="15" fill="#3dcf87"/>
<rect x="1167" y="210" width="3" height="7" fill="#3dcf87"/>
<polyline points="93.5,447.0 98.5,443.8 103.5,440.3 108.5,436.8 113.5,433.3 118.5,430.2 123.5,427.4 128.5,425.3 133.5,423.8 138.5,422.1 143.5,420.8 148.5,419.1 153.5,417.9 158.5,416.7 163.5,415.5 168.5,414.2 173.5,413.0 178.5,411.6 183.5,410.1 188.5,408.4 193.5,406.8 198.5,405.3 203.5,403.9 208.5,402.6 213.5,401.7 218.5,400.4 223.5,399.0 228.5,397.7 233.5,396.6 238.5,395.6 243.5,394.9 248.5,394.3 253.5,393.8 258.5,393.5 263.5,393.0 268.5,392.9 273.5,393.2 278.5,393.2 283.5,393.1 288.5,393.0 293.5,392.8 298.5,392.7 303.5,392.1 308.5,391.6 313.5,391.2 318.5,391.4 323.5,391.2 328.5,390.9 333.5,390.6 338.5,390.2 343.5,389.8 348.5,389.2 353.5,388.7 358.5,388.3 363.5,387.9 368.5,387.4 373.5,387.1 378.5,386.7 383.5,386.3 388.5,385.8 393.5,385.5 398.5,385.0 403.5,384.6 408.5,384.3 413.5,384.0 418.5,383.8 423.5,383.5 428.5,383.7 433.5,383.8 438.5,384.0 443.5,384.1 448.5,384.0 453.5,384.0 458.5,383.8 463.5,383.7 468.5,383.5 473.5,383.3 478.5,383.0 483.5,382.7 488.5,382.4 493.5,382.2 498.5,382.0 503.5,381.8 508.5,381.4 513.5,381.1 518.5,380.8 523.5,380.5 528.5,380.2 533.5,379.6 538.5,378.7 543.5,377.8 548.5,377.0 553.5,375.9 558.5,374.8 563.5,373.5 568.5,372.4 573.5,371.1 578.5,370.0 583.5,368.9 588.5,367.8 593.5,366.8 598.5,365.7 603.5,364.6 608.5,363.5 613.5,361.8 618.5,360.2 623.5,358.7 628.5,357.1 633.5,355.4 638.5,353.9 643.5,352.7 648.5,351.4 653.5,349.9 658.5,348.6 663.5,347.4 668.5,346.8 673.5,346.1 678.5,345.5 683.5,345.0 688.5,344.6 693.5,344.1 698.5,343.6 703.5,343.3 708.5,343.0 713.5,343.0 718.5,343.0 723.5,342.7 728.5,342.3 733.5,341.9 738.5,341.5 743.5,341.0 748.5,340.4 753.5,339.7 758.5,338.9 763.5,338.4 768.5,338.0 773.5,337.6 778.5,337.2 783.5,336.9 788.5,336.4 793.5,336.1 798.5,335.7 803.5,335.4 808.5,335.3 813.5,335.2 818.5,334.8 823.5,334.4 828.5,334.1 833.5,333.9 838.5,333.7 843.5,333.4 848.5,333.0 853.5,332.3 858.5,331.5 863.5,330.6 868.5,329.7 873.5,329.0 878.5,328.3 883.5,327.5 888.5,326.8 893.5,325.8 898.5,324.9 903.5,324.0 908.5,323.2 913.5,322.3 918.5,321.4 923.5,320.6 928.5,319.7 933.5,318.9 938.5,318.1 943.5,317.2 948.5,316.4 953.5,315.3 958.5,314.3 963.5,313.5 968.5,312.4 973.5,311.1 978.5,309.9 983.5,308.5 988.5,307.2 993.5,305.7 998.5,304.4 1003.5,303.1 1008.5,301.8 1013.5,300.7 1018.5,299.6 1023.5,298.7 1028.5,297.6 1033.5,296.7 1038.5,295.8 1043.5,294.6 1048.5,293.6 1053.5,292.7 1058.5,291.7 1063.5,290.9 1068.5,289.9 1073.5,289.1 1078.5,288.3 1083.5,287.4 1088.5,286.6 1093.5,285.7 1098.5,284.8 1103.5,283.9 1108.5,282.9 1113.5,281.9 1118.5,280.8 1123.5,280.0 1128.5,279.2 1133.5,278.4 1138.5,277.5 1143.5,276.7 1148.5,276.0 1153.5,275.3 1158.5,274.7 1163.5,274.1 1168.5,273.5" fill="none" stroke="#e020e0" stroke-width="1" stroke-linejoin="round" shape-rendering="crispEdges"/>
<polyline points="93.5,240.4 98.5,236.0 103.5,230.3 108.5,224.7 113.5,219.4 118.5,215.2 123.5,212.8 128.5,213.1 133.5,215.3 138.5,216.9 143.5,219.7 148.5,220.9 153.5,224.0 158.5,226.8 163.5,229.6 168.5,231.6 173.5,234.2 178.5,235.5 183.5,236.5 188.5,236.8 193.5,237.2 198.5,238.0 203.5,239.0 208.5,240.4 213.5,242.9 218.5,244.1 223.5,244.9 228.5,245.8 233.5,247.5 238.5,249.2 243.5,252.1 248.5,255.3 253.5,258.9 258.5,263.1 263.5,266.3 268.5,270.6 273.5,276.6 278.5,281.4 283.5,285.3 288.5,289.2 293.5,292.4 298.5,295.8 303.5,297.3 308.5,299.1 313.5,301.3 318.5,305.3 323.5,308.2 328.5,310.3 333.5,312.0 338.5,313.6 343.5,315.0 348.5,315.8 353.5,316.6 358.5,317.9 363.5,319.0 368.5,319.8 373.5,321.1 378.5,322.2 383.5,323.3 388.5,323.8 393.5,324.9 398.5,325.3 403.5,326.1 408.5,327.1 413.5,328.5 418.5,329.8 423.5,330.8 428.5,333.5 433.5,336.0 438.5,338.6 443.5,340.5 448.5,341.9 453.5,343.5 458.5,344.6 463.5,345.4 468.5,346.2 473.5,346.9 478.5,347.3 483.5,347.3 488.5,347.6 493.5,348.1 498.5,348.9 503.5,349.1 508.5,349.1 513.5,348.9 518.5,349.1 523.5,349.2 528.5,349.2 533.5,347.9 538.5,345.9 543.5,343.7 548.5,341.5 553.5,338.7 558.5,335.8 563.5,332.4 568.5,329.4 573.5,326.1 578.5,323.4 583.5,321.2 588.5,318.8 593.5,316.4 598.5,314.3 603.5,312.0 608.5,309.4 613.5,305.0 618.5,301.1 623.5,297.5 628.5,293.5 633.5,289.2 638.5,285.9 643.5,283.9 648.5,281.6 653.5,278.3 658.5,276.0 663.5,274.0 668.5,274.6 673.5,274.8 678.5,275.3 683.5,275.9 688.5,276.9 693.5,277.8 698.5,278.5 703.5,279.5 708.5,281.0 713.5,283.3 718.5,285.7 723.5,286.9 728.5,287.5 733.5,287.9 738.5,288.4 743.5,288.7 748.5,288.5 753.5,287.8 758.5,286.5 763.5,286.7 768.5,287.0 773.5,287.5 778.5,288.1 783.5,288.8 788.5,288.5 793.5,289.3 798.5,289.4 803.5,290.1 808.5,291.5 813.5,292.8 818.5,293.0 823.5,292.8 828.5,293.3 833.5,294.3 838.5,295.0 843.5,295.5 848.5,295.2 853.5,294.0 858.5,292.3 863.5,290.2 868.5,288.5 873.5,287.1 878.5,285.9 883.5,284.5 888.5,283.3 893.5,281.3 898.5,279.6 903.5,277.8 908.5,276.5 913.5,274.7 918.5,272.9 923.5,271.7 928.5,270.2 933.5,268.9 938.5,267.6 943.5,266.2 948.5,265.0 953.5,262.8 958.5,260.8 963.5,259.6 968.5,257.4 973.5,254.6 978.5,252.0 983.5,248.8 988.5,245.9 993.5,242.6 998.5,239.9 1003.5,237.2 1008.5,234.8 1013.5,232.8 1018.5,231.2 1023.5,230.5 1028.5,228.9 1033.5,228.1 1038.5,226.9 1043.5,225.1 1048.5,223.9 1053.5,223.0 1058.5,221.9 1063.5,221.2 1068.5,220.3 1073.5,219.6 1078.5,219.1 1083.5,218.5 1088.5,217.9 1093.5,217.0 1098.5,216.1 1103.5,215.4 1108.5,214.2 1113.5,213.1 1118.5,211.4 1123.5,210.8 1128.5,210.5 1133.5,209.9 1138.5,209.1 1143.5,208.7 1148.5,208.5 1153.5,208.7 1158.5,208.7 1163.5,208.8 1168.5,209.1" fill="none" stroke="#20d020" stroke-width="1" stroke-linejoin="round" shape-rendering="crispEdges"/>
<polyline points="93.5,156.5 98.5,150.7 103.5,139.0 108.5,128.5 113.5,120.7 118.5,119.1 123.5,126.0 128.5,144.9 133.5,169.6 138.5,187.3 143.5,207.2 148.5,215.9 153.5,232.7 158.5,245.3 163.5,256.0 168.5,260.6 173.5,268.0 178.5,268.1 183.5,266.5 188.5,262.0 193.5,259.4 198.5,258.9 203.5,259.9 208.5,262.5 213.5,271.1 218.5,271.3 223.5,270.2 228.5,269.5 233.5,273.7 238.5,277.3 243.5,286.1 248.5,296.0 253.5,306.1 258.5,317.9 263.5,323.1 268.5,333.9 273.5,351.9 278.5,361.0 283.5,365.0 288.5,369.3 293.5,369.6 298.5,371.5 303.5,363.9 308.5,359.6 313.5,358.9 318.5,367.9 323.5,369.8 328.5,368.5 333.5,365.4 338.5,363.1 343.5,360.3 348.5,355.1 353.5,351.6 358.5,351.1 363.5,349.8 368.5,347.7 373.5,348.9 378.5,349.2 383.5,349.0 388.5,346.6 393.5,347.9 398.5,345.3 403.5,345.2 408.5,346.4 413.5,349.6 418.5,352.3 423.5,352.6 428.5,362.0 433.5,369.1 438.5,375.8 443.5,378.3 448.5,377.9 453.5,378.7 458.5,377.3 463.5,374.8 468.5,373.2 473.5,371.2 478.5,368.5 483.5,363.9 488.5,362.5 493.5,361.7 498.5,363.1 503.5,361.6 508.5,358.8 513.5,356.1 518.5,355.7 523.5,354.7 528.5,353.8 533.5,346.2 538.5,336.1 543.5,326.9 548.5,319.3 553.5,309.4 558.5,300.5 563.5,290.2 568.5,283.2 573.5,275.8 578.5,272.2 583.5,271.1 588.5,268.6 593.5,266.7 598.5,265.7 603.5,263.8 608.5,260.3 613.5,247.7 618.5,239.2 623.5,233.3 628.5,225.6 633.5,217.2 638.5,214.9 643.5,218.7 648.5,219.9 653.5,215.4 658.5,216.5 663.5,218.3 668.5,232.5 673.5,241.6 678.5,250.7 683.5,259.0 688.5,267.6 693.5,274.0 698.5,278.1 703.5,283.5 708.5,290.4 713.5,300.1 718.5,308.7 723.5,310.4 728.5,308.9 733.5,306.7 738.5,305.5 743.5,303.4 748.5,299.4 753.5,293.6 758.5,286.1 763.5,287.2 768.5,288.4 773.5,291.0 778.5,293.0 783.5,295.8 788.5,293.0 793.5,295.9 798.5,295.0 803.5,297.6 808.5,303.5 813.5,307.6 818.5,305.5 823.5,302.3 828.5,302.9 833.5,306.2 838.5,307.3 843.5,307.1 848.5,303.6 853.5,295.4 858.5,286.6 863.5,277.1 868.5,270.8 873.5,267.4 878.5,265.3 883.5,262.5 888.5,260.7 893.5,254.8 898.5,251.7 903.5,247.8 908.5,247.3 913.5,243.7 918.5,240.9 923.5,241.3 928.5,239.9 933.5,238.9 938.5,238.4 943.5,237.3 948.5,236.8 953.5,231.5 958.5,227.5 963.5,227.7 968.5,223.0 973.5,215.8 978.5,210.2 983.5,202.3 988.5,196.7 993.5,189.7 998.5,186.4 1003.5,183.7 1008.5,182.1 1013.5,182.3 1018.5,184.3 1023.5,190.1 1028.5,190.0 1033.5,193.6 1038.5,194.5 1043.5,191.9 1048.5,192.2 1053.5,194.1 1058.5,194.2 1063.5,196.2 1068.5,196.8 1073.5,197.6 1078.5,199.8 1083.5,200.5 1088.5,200.8 1093.5,199.9 1098.5,198.8 1103.5,198.4 1108.5,195.6 1113.5,193.6 1118.5,189.1 1123.5,190.4 1128.5,193.0 1133.5,193.3 1138.5,192.6 1143.5,193.9 1148.5,196.0 1153.5,199.2 1158.5,201.2 1163.5,203.2 1168.5,205.9" fill="none" stroke="#ffff00" stroke-width="1" stroke-linejoin="round" shape-rendering="crispEdges"/>
<polyline points="93.5,157.2 98.5,147.3 103.5,129.0 108.5,114.8 113.5,106.4 118.5,108.4 123.5,123.4 128.5,155.9 133.5,193.4 138.5,214.9 143.5,239.0 148.5,242.9 153.5,261.9 158.5,273.1 163.5,281.7 168.5,280.7 173.5,286.5 178.5,280.4 183.5,273.6 188.5,263.8 193.5,258.8 198.5,258.2 203.5,260.1 208.5,264.4 213.5,278.1 218.5,276.0 223.5,272.7 228.5,270.6 233.5,277.3 238.5,282.0 243.5,295.1 248.5,308.6 253.5,321.2 258.5,335.9 263.5,338.5 268.5,351.4 273.5,375.5 278.5,382.9 283.5,382.3 288.5,383.7 293.5,379.3 298.5,379.2 303.5,364.0 308.5,356.9 313.5,356.5 318.5,372.4 323.5,374.0 328.5,370.4 333.5,364.6 338.5,361.1 343.5,357.1 348.5,349.5 353.5,345.6 358.5,346.8 363.5,346.1 368.5,343.7 373.5,347.1 378.5,348.1 383.5,348.2 388.5,344.5 393.5,347.3 398.5,343.3 403.5,343.7 408.5,346.2 413.5,351.6 418.5,355.4 423.5,354.9 428.5,369.8 433.5,379.1 438.5,386.9 443.5,387.4 448.5,383.7 453.5,383.1 458.5,379.2 463.5,374.5 468.5,372.0 473.5,369.0 478.5,365.2 483.5,358.7 488.5,358.0 493.5,358.2 498.5,361.7 503.5,359.7 508.5,355.6 513.5,352.2 518.5,352.8 523.5,352.2 528.5,351.5 533.5,339.5 538.5,324.9 543.5,313.3 548.5,305.3 553.5,293.4 558.5,283.9 563.5,272.2 568.5,266.6 573.5,259.7 578.5,259.1 583.5,261.7 588.5,260.5 593.5,260.1 598.5,260.7 603.5,259.2 608.5,254.8 613.5,235.7 618.5,225.5 623.5,220.2 628.5,211.8 633.5,202.4 638.5,203.5 643.5,213.7 648.5,217.3 653.5,210.7 658.5,214.1 663.5,217.9 668.5,241.7 673.5,253.8 678.5,265.0 683.5,274.0 688.5,283.4 693.5,288.7 698.5,290.7 703.5,295.5 708.5,303.0 713.5,314.9 718.5,324.4 723.5,321.9 728.5,315.5 733.5,309.8 738.5,306.7 743.5,302.8 748.5,296.4 753.5,287.7 758.5,277.2 763.5,281.9 768.5,285.7 773.5,291.0 778.5,294.2 783.5,298.6 788.5,293.0 793.5,297.8 798.5,295.6 803.5,299.8 808.5,308.8 813.5,313.9 818.5,308.3 823.5,302.0 828.5,303.1 833.5,308.5 838.5,309.6 843.5,308.5 848.5,302.2 853.5,289.0 858.5,276.4 863.5,264.0 868.5,257.8 873.5,256.6 878.5,256.6 883.5,254.8 888.5,254.4 893.5,246.6 898.5,244.2 903.5,240.2 908.5,241.9 913.5,237.7 918.5,235.0 923.5,237.6 928.5,236.5 933.5,236.1 938.5,236.1 943.5,235.0 948.5,235.0 953.5,226.7 958.5,221.6 963.5,224.0 968.5,217.3 973.5,207.3 978.5,200.8 983.5,190.7 988.5,185.3 993.5,177.4 998.5,175.9 1003.5,174.9 1008.5,175.2 1013.5,177.8 1018.5,182.7 1023.5,192.8 1028.5,191.8 1033.5,197.3 1038.5,197.6 1043.5,192.1 1048.5,192.6 1053.5,195.6 1058.5,195.2 1063.5,198.3 1068.5,198.6 1073.5,199.3 1078.5,202.3 1083.5,202.8 1088.5,202.5 1093.5,200.4 1098.5,198.3 1103.5,197.9 1108.5,193.3 1113.5,190.9 1118.5,184.3 1123.5,187.9 1128.5,193.2 1133.5,193.6 1138.5,192.3 1143.5,194.5 1148.5,197.9 1153.5,202.6 1158.5,204.8 1163.5,206.9 1168.5,210.2" fill="none" stroke="#ffffff" stroke-width="1" stroke-linejoin="round" shape-rendering="crispEdges"/>
<path d="M106 66.5H113M108.5 63.5V69" stroke="#ffffff" stroke-width="1"/>
<path d="M996 153.5H1003M998.5 150.5V156" stroke="#ffffff" stroke-width="1"/>
<path d="M273 436.5H279M273.5 434V439" stroke="#ffffff" stroke-width="1"/>
<path d="M636 168.5H640M638.5 166V170" stroke="#ffffff" stroke-width="1"/>
<line x1="90" y1="485.5" x2="1216" y2="485.5" stroke="#333333" stroke-width="1" stroke-dasharray="3 3"/>
<line x1="91" y1="511.5" x2="1216" y2="511.5" stroke="#333333" stroke-width="1" stroke-dasharray="1 2"/>
<line x1="91" y1="538.5" x2="1216" y2="538.5" stroke="#333333" stroke-width="1" stroke-dasharray="1 2"/>
<line x1="91" y1="564.5" x2="1216" y2="564.5" stroke="#333333" stroke-width="1" stroke-dasharray="1 2"/>
<line x1="91" y1="591.5" x2="1216" y2="591.5" stroke="#333333" stroke-width="1" stroke-dasharray="1 2"/>
<rect x="93" y="550.1" width="1" height="26.2" fill="#3dcf87"/>
<rect x="98" y="550.1" width="1" height="21.0" fill="#3dcf87"/>
<rect x="103" y="550.1" width="1" height="11.2" fill="#3dcf87"/>
<rect x="108" y="550.1" width="1" height="4.2" fill="#3dcf87"/>
<rect x="113" y="550.1" width="1" height="1.1" fill="#3dcf87"/>
<rect x="118" y="550.1" width="1" height="4.2" fill="#3dcf87"/>
<rect x="123" y="550.1" width="1" height="14.2" fill="#3dcf87"/>
<rect x="128" y="550.1" width="1" height="32.9" fill="#3dcf87"/>
<rect x="133" y="550.1" width="1" height="52.3" fill="#3dcf87"/>
<rect x="138" y="550.1" width="1" height="60.5" fill="#3dcf87"/>
<rect x="143" y="550.1" width="1" height="68.2" fill="#3dcf87"/>
<rect x="148" y="550.1" width="1" height="63.2" fill="#3dcf87"/>
<rect x="153" y="550.1" width="1" height="66.0" fill="#3dcf87"/>
<rect x="158" y="550.1" width="1" height="63.5" fill="#3dcf87"/>
<rect x="163" y="550.1" width="1" height="59.2" fill="#3dcf87"/>
<rect x="168" y="550.1" width="1" height="49.4" fill="#3dcf87"/>
<rect x="173" y="550.1" width="1" height="43.9" fill="#3dcf87"/>
<rect x="178" y="550.1" width="1" height="32.4" fill="#3dcf87"/>
<rect x="183" y="550.1" width="1" height="21.4" fill="#3dcf87"/>
<rect x="188" y="550.1" width="1" height="9.9" fill="#3dcf87"/>
<rect x="193" y="550.1" width="1" height="2.5" fill="#3dcf87"/>
<rect x="198" y="548.8" width="1" height="1.3" fill="#ff2d4d"/>
<rect x="203" y="547.1" width="1" height="3.0" fill="#ff2d4d"/>
<rect x="208" y="547.3" width="1" height="2.8" fill="#ff2d4d"/>
<rect x="213" y="550.1" width="1" height="2.8" fill="#3dcf87"/>
<rect x="218" y="549.6" width="1" height="0.5" fill="#ff2d4d"/>
<rect x="223" y="545.9" width="1" height="4.2" fill="#ff2d4d"/>
<rect x="228" y="543.4" width="1" height="6.8" fill="#ff2d4d"/>
<rect x="233" y="546.0" width="1" height="4.2" fill="#ff2d4d"/>
<rect x="238" y="547.4" width="1" height="2.7" fill="#ff2d4d"/>
<rect x="243" y="550.1" width="1" height="3.3" fill="#3dcf87"/>
<rect x="248" y="550.1" width="1" height="8.9" fill="#3dcf87"/>
<rect x="253" y="550.1" width="1" height="13.4" fill="#3dcf87"/>
<rect x="258" y="550.1" width="1" height="18.3" fill="#3dcf87"/>
<rect x="263" y="550.1" width="1" height="15.9" fill="#3dcf87"/>
<rect x="268" y="550.1" width="1" height="19.0" fill="#3dcf87"/>
<rect x="273" y="550.1" width="1" height="27.7" fill="#3dcf87"/>
<rect x="278" y="550.1" width="1" height="26.2" fill="#3dcf87"/>
<rect x="283" y="550.1" width="1" height="20.0" fill="#3dcf87"/>
<rect x="288" y="550.1" width="1" height="15.2" fill="#3dcf87"/>
<rect x="293" y="550.1" width="1" height="7.6" fill="#3dcf87"/>
<rect x="298" y="550.1" width="1" height="3.0" fill="#3dcf87"/>
<rect x="303" y="540.9" width="1" height="9.2" fill="#ff2d4d"/>
<rect x="308" y="534.5" width="1" height="15.7" fill="#ff2d4d"/>
<rect x="313" y="532.8" width="1" height="17.3" fill="#ff2d4d"/>
<rect x="318" y="540.6" width="1" height="9.5" fill="#ff2d4d"/>
<rect x="323" y="540.3" width="1" height="9.9" fill="#ff2d4d"/>
<rect x="328" y="537.3" width="1" height="12.9" fill="#ff2d4d"/>
<rect x="333" y="533.4" width="1" height="16.7" fill="#ff2d4d"/>
<rect x="338" y="531.3" width="1" height="18.9" fill="#ff2d4d"/>
<rect x="343" y="529.4" width="1" height="20.7" fill="#ff2d4d"/>
<rect x="348" y="526.0" width="1" height="24.2" fill="#ff2d4d"/>
<rect x="353" y="525.1" width="1" height="25.0" fill="#ff2d4d"/>
<rect x="358" y="527.5" width="1" height="22.7" fill="#ff2d4d"/>
<rect x="363" y="528.8" width="1" height="21.3" fill="#ff2d4d"/>
<rect x="368" y="529.3" width="1" height="20.8" fill="#ff2d4d"/>
<rect x="373" y="533.1" width="1" height="17.0" fill="#ff2d4d"/>
<rect x="378" y="535.3" width="1" height="14.8" fill="#ff2d4d"/>
<rect x="383" y="536.8" width="1" height="13.3" fill="#ff2d4d"/>
<rect x="388" y="536.2" width="1" height="14.0" fill="#ff2d4d"/>
<rect x="393" y="539.2" width="1" height="11.0" fill="#ff2d4d"/>
<rect x="398" y="538.1" width="1" height="12.0" fill="#ff2d4d"/>
<rect x="403" y="539.6" width="1" height="10.5" fill="#ff2d4d"/>
<rect x="408" y="542.2" width="1" height="8.0" fill="#ff2d4d"/>
<rect x="413" y="546.0" width="1" height="4.1" fill="#ff2d4d"/>
<rect x="418" y="548.7" width="1" height="1.5" fill="#ff2d4d"/>
<rect x="423" y="548.6" width="1" height="1.5" fill="#ff2d4d"/>
<rect x="428" y="550.1" width="1" height="6.7" fill="#3dcf87"/>
<rect x="433" y="550.1" width="1" height="11.0" fill="#3dcf87"/>
<rect x="438" y="550.1" width="1" height="13.8" fill="#3dcf87"/>
<rect x="443" y="550.1" width="1" height="12.1" fill="#3dcf87"/>
<rect x="448" y="550.1" width="1" height="8.0" fill="#3dcf87"/>
<rect x="453" y="550.1" width="1" height="5.7" fill="#3dcf87"/>
<rect x="458" y="550.1" width="1" height="1.9" fill="#3dcf87"/>
<rect x="463" y="548.0" width="1" height="2.1" fill="#ff2d4d"/>
<rect x="468" y="545.7" width="1" height="4.4" fill="#ff2d4d"/>
<rect x="473" y="543.6" width="1" height="6.5" fill="#ff2d4d"/>
<rect x="478" y="541.3" width="1" height="8.8" fill="#ff2d4d"/>
<rect x="483" y="538.0" width="1" height="12.2" fill="#ff2d4d"/>
<rect x="488" y="538.4" width="1" height="11.8" fill="#ff2d4d"/>
<rect x="493" y="539.4" width="1" height="10.8" fill="#ff2d4d"/>
<rect x="498" y="542.3" width="1" height="7.8" fill="#ff2d4d"/>
<rect x="503" y="542.1" width="1" height="8.1" fill="#ff2d4d"/>
<rect x="508" y="540.7" width="1" height="9.5" fill="#ff2d4d"/>
<rect x="513" y="539.9" width="1" height="10.2" fill="#ff2d4d"/>
<rect x="518" y="541.4" width="1" height="8.7" fill="#ff2d4d"/>
<rect x="523" y="542.3" width="1" height="7.8" fill="#ff2d4d"/>
<rect x="528" y="543.1" width="1" height="7.1" fill="#ff2d4d"/>
<rect x="533" y="537.6" width="1" height="12.5" fill="#ff2d4d"/>
<rect x="538" y="531.3" width="1" height="18.9" fill="#ff2d4d"/>
<rect x="543" y="527.3" width="1" height="22.8" fill="#ff2d4d"/>
<rect x="548" y="526.0" width="1" height="24.1" fill="#ff2d4d"/>
<rect x="553" y="523.0" width="1" height="27.1" fill="#ff2d4d"/>
<rect x="558" y="522.0" width="1" height="28.1" fill="#ff2d4d"/>
<rect x="563" y="520.2" width="1" height="30.0" fill="#ff2d4d"/>
<rect x="568" y="522.2" width="1" height="28.0" fill="#ff2d4d"/>
<rect x="573" y="523.6" width="1" height="26.5" fill="#ff2d4d"/>
<rect x="578" y="528.6" width="1" height="21.6" fill="#ff2d4d"/>
<rect x="583" y="535.0" width="1" height="15.1" fill="#ff2d4d"/>
<rect x="588" y="538.8" width="1" height="11.3" fill="#ff2d4d"/>
<rect x="593" y="542.6" width="1" height="7.6" fill="#ff2d4d"/>
<rect x="598" y="546.4" width="1" height="3.7" fill="#ff2d4d"/>
<rect x="603" y="548.7" width="1" height="1.5" fill="#ff2d4d"/>
<rect x="608" y="548.9" width="1" height="1.2" fill="#ff2d4d"/>
<rect x="613" y="540.9" width="1" height="9.2" fill="#ff2d4d"/>
<rect x="618" y="538.4" width="1" height="11.7" fill="#ff2d4d"/>
<rect x="623" y="539.0" width="1" height="11.1" fill="#ff2d4d"/>
<rect x="628" y="537.9" width="1" height="12.2" fill="#ff2d4d"/>
<rect x="633" y="536.6" width="1" height="13.5" fill="#ff2d4d"/>
<rect x="638" y="541.3" width="1" height="8.8" fill="#ff2d4d"/>
<rect x="643" y="550.1" width="1" height="0.5" fill="#3dcf87"/>
<rect x="648" y="550.1" width="1" height="5.4" fill="#3dcf87"/>
<rect x="653" y="550.1" width="1" height="4.0" fill="#3dcf87"/>
<rect x="658" y="550.1" width="1" height="8.0" fill="#3dcf87"/>
<rect x="663" y="550.1" width="1" height="11.6" fill="#3dcf87"/>
<rect x="668" y="550.1" width="1" height="25.6" fill="#3dcf87"/>
<rect x="673" y="550.1" width="1" height="31.6" fill="#3dcf87"/>
<rect x="678" y="550.1" width="1" height="36.1" fill="#3dcf87"/>
<rect x="683" y="550.1" width="1" height="38.3" fill="#3dcf87"/>
<rect x="688" y="550.1" width="1" height="40.0" fill="#3dcf87"/>
<rect x="693" y="550.1" width="1" height="38.7" fill="#3dcf87"/>
<rect x="698" y="550.1" width="1" height="35.4" fill="#3dcf87"/>
<rect x="703" y="550.1" width="1" height="33.4" fill="#3dcf87"/>
<rect x="708" y="550.1" width="1" height="32.9" fill="#3dcf87"/>
<rect x="713" y="550.1" width="1" height="34.6" fill="#3dcf87"/>
<rect x="718" y="550.1" width="1" height="34.6" fill="#3dcf87"/>
<rect x="723" y="550.1" width="1" height="27.9" fill="#3dcf87"/>
<rect x="728" y="550.1" width="1" height="19.4" fill="#3dcf87"/>
<rect x="733" y="550.1" width="1" height="12.0" fill="#3dcf87"/>
<rect x="738" y="550.1" width="1" height="6.8" fill="#3dcf87"/>
<rect x="743" y="550.1" width="1" height="1.9" fill="#3dcf87"/>
<rect x="748" y="546.6" width="1" height="3.6" fill="#ff2d4d"/>
<rect x="753" y="540.5" width="1" height="9.6" fill="#ff2d4d"/>
<rect x="758" y="534.4" width="1" height="15.7" fill="#ff2d4d"/>
<rect x="763" y="537.6" width="1" height="12.5" fill="#ff2d4d"/>
<rect x="768" y="540.4" width="1" height="9.8" fill="#ff2d4d"/>
<rect x="773" y="544.0" width="1" height="6.2" fill="#ff2d4d"/>
<rect x="778" y="546.2" width="1" height="4.0" fill="#ff2d4d"/>
<rect x="783" y="548.8" width="1" height="1.3" fill="#ff2d4d"/>
<rect x="788" y="545.8" width="1" height="4.4" fill="#ff2d4d"/>
<rect x="793" y="548.5" width="1" height="1.6" fill="#ff2d4d"/>
<rect x="798" y="547.3" width="1" height="2.8" fill="#ff2d4d"/>
<rect x="803" y="549.6" width="1" height="0.5" fill="#ff2d4d"/>
<rect x="808" y="550.1" width="1" height="4.2" fill="#3dcf87"/>
<rect x="813" y="550.1" width="1" height="6.3" fill="#3dcf87"/>
<rect x="818" y="550.1" width="1" height="2.2" fill="#3dcf87"/>
<rect x="823" y="548.1" width="1" height="2.0" fill="#ff2d4d"/>
<rect x="828" y="548.3" width="1" height="1.8" fill="#ff2d4d"/>
<rect x="833" y="550.1" width="1" height="0.7" fill="#3dcf87"/>
<rect x="838" y="550.1" width="1" height="0.8" fill="#3dcf87"/>
<rect x="843" y="549.8" width="1" height="0.4" fill="#ff2d4d"/>
<rect x="848" y="545.8" width="1" height="4.3" fill="#ff2d4d"/>
<rect x="853" y="538.5" width="1" height="11.6" fill="#ff2d4d"/>
<rect x="858" y="532.4" width="1" height="17.8" fill="#ff2d4d"/>
<rect x="863" y="527.2" width="1" height="23.0" fill="#ff2d4d"/>
<rect x="868" y="526.2" width="1" height="23.9" fill="#ff2d4d"/>
<rect x="873" y="528.4" width="1" height="21.7" fill="#ff2d4d"/>
<rect x="878" y="531.5" width="1" height="18.6" fill="#ff2d4d"/>
<rect x="883" y="533.6" width="1" height="16.6" fill="#ff2d4d"/>
<rect x="888" y="536.3" width="1" height="13.9" fill="#ff2d4d"/>
<rect x="893" y="534.8" width="1" height="15.3" fill="#ff2d4d"/>
<rect x="898" y="536.4" width="1" height="13.7" fill="#ff2d4d"/>
<rect x="903" y="537.1" width="1" height="13.1" fill="#ff2d4d"/>
<rect x="908" y="540.9" width="1" height="9.3" fill="#ff2d4d"/>
<rect x="913" y="541.1" width="1" height="9.1" fill="#ff2d4d"/>
<rect x="918" y="542.1" width="1" height="8.1" fill="#ff2d4d"/>
<rect x="923" y="545.8" width="1" height="4.3" fill="#ff2d4d"/>
<rect x="928" y="547.3" width="1" height="2.9" fill="#ff2d4d"/>
<rect x="933" y="548.8" width="1" height="1.3" fill="#ff2d4d"/>
<rect x="938" y="550.1" width="1" height="0.2" fill="#3dcf87"/>
<rect x="943" y="550.1" width="1" height="1.0" fill="#3dcf87"/>
<rect x="948" y="550.1" width="1" height="2.1" fill="#3dcf87"/>
<rect x="953" y="548.7" width="1" height="1.4" fill="#ff2d4d"/>
<rect x="958" y="547.1" width="1" height="3.0" fill="#ff2d4d"/>
<rect x="963" y="549.8" width="1" height="0.3" fill="#ff2d4d"/>
<rect x="968" y="547.4" width="1" height="2.8" fill="#ff2d4d"/>
<rect x="973" y="543.3" width="1" height="6.9" fill="#ff2d4d"/>
<rect x="978" y="541.6" width="1" height="8.6" fill="#ff2d4d"/>
<rect x="983" y="538.2" width="1" height="11.9" fill="#ff2d4d"/>
<rect x="988" y="537.9" width="1" height="12.2" fill="#ff2d4d"/>
<rect x="993" y="536.5" width="1" height="13.7" fill="#ff2d4d"/>
<rect x="998" y="538.8" width="1" height="11.3" fill="#ff2d4d"/>
<rect x="1003" y="541.4" width="1" height="8.8" fill="#ff2d4d"/>
<rect x="1008" y="544.5" width="1" height="5.6" fill="#ff2d4d"/>
<rect x="1013" y="548.6" width="1" height="1.5" fill="#ff2d4d"/>
<rect x="1018" y="550.1" width="1" height="3.4" fill="#3dcf87"/>
<rect x="1023" y="550.1" width="1" height="10.6" fill="#3dcf87"/>
<rect x="1028" y="550.1" width="1" height="10.9" fill="#3dcf87"/>
<rect x="1033" y="550.1" width="1" height="14.3" fill="#3dcf87"/>
<rect x="1038" y="550.1" width="1" height="14.3" fill="#3dcf87"/>
<rect x="1043" y="550.1" width="1" height="11.0" fill="#3dcf87"/>
<rect x="1048" y="550.1" width="1" height="10.9" fill="#3dcf87"/>
<rect x="1053" y="550.1" width="1" height="12.2" fill="#3dcf87"/>
<rect x="1058" y="550.1" width="1" height="11.3" fill="#3dcf87"/>
<rect x="1063" y="550.1" width="1" height="12.4" fill="#3dcf87"/>
<rect x="1068" y="550.1" width="1" height="11.7" fill="#3dcf87"/>
<rect x="1073" y="550.1" width="1" height="11.3" fill="#3dcf87"/>
<rect x="1078" y="550.1" width="1" height="12.0" fill="#3dcf87"/>
<rect x="1083" y="550.1" width="1" height="11.2" fill="#3dcf87"/>
<rect x="1088" y="550.1" width="1" height="10.0" fill="#3dcf87"/>
<rect x="1093" y="550.1" width="1" height="7.8" fill="#3dcf87"/>
<rect x="1098" y="550.1" width="1" height="5.9" fill="#3dcf87"/>
<rect x="1103" y="550.1" width="1" height="5.0" fill="#3dcf87"/>
<rect x="1108" y="550.1" width="1" height="1.9" fill="#3dcf87"/>
<rect x="1113" y="550.1" width="1" height="0.4" fill="#3dcf87"/>
<rect x="1118" y="546.9" width="1" height="3.2" fill="#ff2d4d"/>
<rect x="1123" y="549.4" width="1" height="0.8" fill="#ff2d4d"/>
<rect x="1128" y="550.1" width="1" height="2.5" fill="#3dcf87"/>
<rect x="1133" y="550.1" width="1" height="2.8" fill="#3dcf87"/>
<rect x="1138" y="550.1" width="1" height="2.1" fill="#3dcf87"/>
<rect x="1143" y="550.1" width="1" height="3.4" fill="#3dcf87"/>
<rect x="1148" y="550.1" width="1" height="5.2" fill="#3dcf87"/>
<rect x="1153" y="550.1" width="1" height="7.4" fill="#3dcf87"/>
<rect x="1158" y="550.1" width="1" height="8.0" fill="#3dcf87"/>
<rect x="1163" y="550.1" width="1" height="8.4" fill="#3dcf87"/>
<rect x="1168" y="550.1" width="1" height="9.2" fill="#3dcf87"/>
<polyline points="93.5,509.9 98.5,509.9 103.5,506.4 108.5,503.5 113.5,502.1 118.5,504.1 123.5,510.9 128.5,524.4 133.5,540.6 138.5,552.2 143.5,564.6 148.5,570.1 153.5,579.7 158.5,586.4 163.5,591.6 168.5,592.9 173.5,595.7 178.5,593.9 183.5,591.1 188.5,586.6 193.5,583.2 198.5,581.1 203.5,579.9 208.5,579.7 213.5,582.8 218.5,581.1 223.5,578.7 228.5,576.6 233.5,577.4 238.5,577.8 243.5,581.2 248.5,585.1 253.5,589.0 258.5,593.8 263.5,594.6 268.5,598.5 273.5,606.3 278.5,608.8 283.5,608.2 288.5,607.7 293.5,604.9 298.5,603.0 303.5,595.7 308.5,590.5 313.5,587.5 318.5,590.2 323.5,588.8 328.5,585.7 333.5,581.7 338.5,578.3 343.5,574.7 348.5,570.0 353.5,566.4 358.5,564.8 363.5,562.8 368.5,560.4 373.5,560.2 378.5,559.4 383.5,558.5 388.5,556.5 393.5,556.6 398.5,554.6 403.5,554.0 408.5,554.3 413.5,555.7 418.5,556.8 423.5,556.6 428.5,561.6 433.5,565.1 438.5,568.3 443.5,568.9 448.5,567.8 453.5,567.4 458.5,565.7 463.5,563.5 468.5,561.8 473.5,559.9 478.5,557.7 483.5,554.5 488.5,553.2 493.5,552.3 498.5,552.8 503.5,551.7 508.5,549.8 513.5,548.2 518.5,547.8 523.5,547.3 528.5,546.8 533.5,542.5 538.5,537.0 543.5,532.1 548.5,528.5 553.5,523.6 558.5,519.5 563.5,514.9 568.5,512.4 573.5,509.8 578.5,509.6 583.5,510.9 588.5,511.4 593.5,512.3 598.5,513.8 603.5,514.7 608.5,514.7 613.5,509.6 618.5,506.8 623.5,505.7 628.5,503.7 633.5,501.3 638.5,502.6 643.5,507.3 648.5,510.4 653.5,510.2 658.5,513.2 663.5,516.5 668.5,526.7 673.5,533.6 678.5,540.4 683.5,546.3 688.5,552.1 693.5,556.3 698.5,559.1 703.5,562.2 708.5,566.1 713.5,571.3 718.5,575.6 723.5,575.7 728.5,573.9 733.5,571.7 738.5,570.0 743.5,567.8 748.5,564.6 753.5,560.4 758.5,555.3 763.5,555.4 768.5,555.5 773.5,556.5 778.5,557.2 783.5,558.3 788.5,556.3 793.5,557.4 798.5,556.5 803.5,557.6 808.5,560.5 813.5,562.3 818.5,560.5 823.5,558.1 828.5,558.0 833.5,559.4 838.5,559.5 843.5,558.9 848.5,556.4 853.5,551.3 858.5,546.0 863.5,540.5 868.5,537.0 873.5,535.4 878.5,534.7 883.5,533.6 888.5,533.2 893.5,530.6 898.5,529.7 903.5,528.4 908.5,529.1 913.5,528.1 918.5,527.6 923.5,528.9 928.5,529.3 933.5,529.9 938.5,530.7 943.5,531.2 948.5,532.0 953.5,530.0 958.5,528.9 963.5,530.2 968.5,528.6 973.5,525.7 978.5,523.8 983.5,520.6 988.5,518.9 993.5,516.5 998.5,516.2 1003.5,516.4 1008.5,517.3 1013.5,519.2 1018.5,522.1 1023.5,527.0 1028.5,528.5 1033.5,532.0 1038.5,533.8 1043.5,533.5 1048.5,534.8 1053.5,537.0 1058.5,538.0 1063.5,540.0 1068.5,541.2 1073.5,542.4 1078.5,544.2 1083.5,545.2 1088.5,545.8 1093.5,545.8 1098.5,545.5 1103.5,545.7 1108.5,544.4 1113.5,543.7 1118.5,541.5 1123.5,542.6 1128.5,544.5 1133.5,545.1 1138.5,545.0 1143.5,546.1 1148.5,547.6 1153.5,549.6 1158.5,550.9 1163.5,552.2 1168.5,553.7" fill="none" stroke="#ffffff" stroke-width="1" stroke-linejoin="round" shape-rendering="crispEdges"/>
<polyline points="93.5,496.8 98.5,499.4 103.5,500.8 108.5,501.4 113.5,501.5 118.5,502.0 123.5,503.8 128.5,507.9 133.5,514.4 138.5,522.0 143.5,530.5 148.5,538.4 153.5,546.7 158.5,554.6 163.5,562.0 168.5,568.2 173.5,573.7 178.5,577.7 183.5,580.4 188.5,581.6 193.5,582.0 198.5,581.8 203.5,581.4 208.5,581.1 213.5,581.4 218.5,581.4 223.5,580.8 228.5,580.0 233.5,579.5 238.5,579.1 243.5,579.5 248.5,580.6 253.5,582.3 258.5,584.6 263.5,586.6 268.5,589.0 273.5,592.4 278.5,595.7 283.5,598.2 288.5,600.1 293.5,601.1 298.5,601.4 303.5,600.3 308.5,598.3 313.5,596.2 318.5,595.0 323.5,593.7 328.5,592.1 333.5,590.0 338.5,587.7 343.5,585.1 348.5,582.1 353.5,578.9 358.5,576.1 363.5,573.4 368.5,570.8 373.5,568.7 378.5,566.9 383.5,565.2 388.5,563.5 393.5,562.1 398.5,560.6 403.5,559.3 408.5,558.3 413.5,557.8 418.5,557.6 423.5,557.4 428.5,558.2 433.5,559.6 438.5,561.3 443.5,562.8 448.5,563.8 453.5,564.6 458.5,564.8 463.5,564.5 468.5,564.0 473.5,563.2 478.5,562.1 483.5,560.5 488.5,559.1 493.5,557.7 498.5,556.7 503.5,555.7 508.5,554.5 513.5,553.3 518.5,552.2 523.5,551.2 528.5,550.3 533.5,548.8 538.5,546.4 543.5,543.5 548.5,540.5 553.5,537.1 558.5,533.6 563.5,529.9 568.5,526.4 573.5,523.1 578.5,520.4 583.5,518.5 588.5,517.1 593.5,516.1 598.5,515.7 603.5,515.5 608.5,515.3 613.5,514.2 618.5,512.7 623.5,511.3 628.5,509.8 633.5,508.1 638.5,507.0 643.5,507.1 648.5,507.7 653.5,508.2 658.5,509.2 663.5,510.7 668.5,513.9 673.5,517.8 678.5,522.3 683.5,527.1 688.5,532.1 693.5,537.0 698.5,541.4 703.5,545.6 708.5,549.7 713.5,554.0 718.5,558.3 723.5,561.8 728.5,564.2 733.5,565.7 738.5,566.6 743.5,566.8 748.5,566.4 753.5,565.2 758.5,563.2 763.5,561.6 768.5,560.4 773.5,559.6 778.5,559.1 783.5,559.0 788.5,558.4 793.5,558.2 798.5,557.9 803.5,557.8 808.5,558.4 813.5,559.1 818.5,559.4 823.5,559.2 828.5,558.9 833.5,559.0 838.5,559.1 843.5,559.1 848.5,558.5 853.5,557.1 858.5,554.9 863.5,552.0 868.5,549.0 873.5,546.3 878.5,544.0 883.5,541.9 888.5,540.2 893.5,538.2 898.5,536.5 903.5,534.9 908.5,533.7 913.5,532.6 918.5,531.6 923.5,531.1 928.5,530.7 933.5,530.5 938.5,530.6 943.5,530.7 948.5,530.9 953.5,530.8 958.5,530.4 963.5,530.3 968.5,530.0 973.5,529.1 978.5,528.1 983.5,526.6 988.5,525.0 993.5,523.3 998.5,521.9 1003.5,520.8 1008.5,520.1 1013.5,519.9 1018.5,520.4 1023.5,521.7 1028.5,523.0 1033.5,524.8 1038.5,526.6 1043.5,528.0 1048.5,529.4 1053.5,530.9 1058.5,532.3 1063.5,533.8 1068.5,535.3 1073.5,536.7 1078.5,538.2 1083.5,539.6 1088.5,540.9 1093.5,541.8 1098.5,542.6 1103.5,543.2 1108.5,543.4 1113.5,543.5 1118.5,543.1 1123.5,543.0 1128.5,543.3 1133.5,543.7 1138.5,543.9 1143.5,544.3 1148.5,545.0 1153.5,545.9 1158.5,546.9 1163.5,548.0 1168.5,549.1" fill="none" stroke="#ffff00" stroke-width="1" stroke-linejoin="round" shape-rendering="crispEdges"/>
<line x1="90" y1="640.5" x2="1216" y2="640.5" stroke="#333333" stroke-width="1" stroke-dasharray="3 3"/>
<line x1="91" y1="668.5" x2="1216" y2="668.5" stroke="#333333" stroke-width="1" stroke-dasharray="1 2"/>
<line x1="91" y1="697.5" x2="1216" y2="697.5" stroke="#333333" stroke-width="1" stroke-dasharray="1 2"/>
<line x1="91" y1="725.5" x2="1216" y2="725.5" stroke="#333333" stroke-width="1" stroke-dasharray="1 2"/>
<g clip-path="url(#kclip)">
<polyline points="93.5,725.7 98.5,696.0 103.5,666.6 108.5,659.8 113.5,659.8 118.5,675.4 123.5,709.2 128.5,742.7 133.5,753.2 138.5,752.9 143.5,745.4 148.5,730.7 153.5,735.1 158.5,734.7 163.5,734.5 168.5,722.5 173.5,715.7 178.5,687.1 183.5,668.2 188.5,650.3 193.5,647.4 198.5,653.8 203.5,663.3 208.5,691.7 213.5,728.4 218.5,714.5 223.5,701.0 228.5,694.2 233.5,712.1 238.5,719.3 243.5,737.6 248.5,751.0 253.5,744.9 258.5,751.3 263.5,740.8 268.5,748.4 273.5,748.4 278.5,734.1 283.5,718.3 288.5,708.5 293.5,687.7 298.5,682.9 303.5,654.1 308.5,648.6 313.5,657.0 318.5,700.9 323.5,709.0 328.5,700.6 333.5,687.3 338.5,681.5 343.5,675.1 348.5,659.8 353.5,663.6 358.5,675.2 363.5,678.0 368.5,682.6 373.5,701.2 378.5,708.0 383.5,709.0 388.5,695.6 393.5,707.0 398.5,684.7 403.5,685.9 408.5,695.3 413.5,712.8 418.5,722.0 423.5,712.5 428.5,738.8 433.5,749.0 438.5,756.9 443.5,745.7 448.5,722.5 453.5,713.4 458.5,693.1 463.5,674.7 468.5,669.6 473.5,656.1 478.5,645.1 483.5,647.3 488.5,669.7 493.5,689.4 498.5,715.7 503.5,710.6 508.5,692.6 513.5,679.9 518.5,689.9 523.5,695.4 528.5,696.5 533.5,670.3 538.5,655.9 543.5,649.6 548.5,658.1 553.5,653.9 558.5,650.7 563.5,650.2 568.5,658.6 573.5,657.5 578.5,670.3 583.5,694.5 588.5,695.4 593.5,698.4 598.5,713.0 603.5,708.5 608.5,685.9 613.5,665.3 618.5,661.8 623.5,664.9 628.5,658.9 633.5,659.4 638.5,676.8 643.5,709.1 648.5,723.1 653.5,707.3 658.5,724.1 663.5,735.8 668.5,738.7 673.5,733.4 678.5,733.7 683.5,732.0 688.5,735.8 693.5,735.4 698.5,732.0 703.5,733.5 708.5,730.6 713.5,738.6 718.5,746.4 723.5,719.8 728.5,690.2 733.5,671.8 738.5,664.7 743.5,651.2 748.5,645.4 753.5,644.8 758.5,641.7 763.5,669.0 768.5,694.0 773.5,720.5 778.5,731.7 783.5,741.0 788.5,717.3 793.5,730.7 798.5,719.8 803.5,731.2 808.5,747.5 813.5,746.2 818.5,712.6 823.5,686.7 828.5,693.2 833.5,712.6 838.5,713.5 843.5,707.0 848.5,683.1 853.5,658.8 858.5,647.8 863.5,644.1 868.5,649.4 873.5,660.8 878.5,669.8 883.5,673.1 888.5,678.5 893.5,666.0 898.5,679.7 903.5,674.3 908.5,696.0 913.5,681.1 918.5,674.1 923.5,696.3 928.5,697.4 933.5,700.4 938.5,708.9 943.5,704.0 948.5,706.5 953.5,675.7 958.5,663.6 963.5,692.6 968.5,678.1 973.5,665.2 978.5,660.5 983.5,660.7 988.5,665.7 993.5,659.7 998.5,668.6 1003.5,673.5 1008.5,680.0 1013.5,704.2 1018.5,732.8 1023.5,755.9 1028.5,737.4 1033.5,737.4 1038.5,725.8 1043.5,691.1 1048.5,688.1 1053.5,694.5 1058.5,691.5 1063.5,703.6 1068.5,702.6 1073.5,704.5 1078.5,723.2 1083.5,725.2 1088.5,722.5 1093.5,712.1 1098.5,703.8 1103.5,696.3 1108.5,667.5 1113.5,660.5 1118.5,650.4 1123.5,690.6 1128.5,724.2 1133.5,732.3 1138.5,729.1 1143.5,739.8 1148.5,752.1 1153.5,751.6 1158.5,746.7 1163.5,745.1 1168.5,747.9" fill="none" stroke="#e020e0" stroke-width="1" stroke-linejoin="round" shape-rendering="crispEdges"/>
<polyline points="93.5,712.1 98.5,701.3 103.5,687.9 108.5,682.0 113.5,678.8 118.5,682.8 123.5,696.2 128.5,712.4 133.5,721.2 138.5,725.7 143.5,726.4 148.5,722.8 153.5,725.8 158.5,727.0 163.5,728.0 168.5,723.8 173.5,720.7 178.5,707.7 183.5,696.7 188.5,684.9 193.5,678.7 198.5,677.0 203.5,677.8 208.5,687.9 213.5,704.1 218.5,701.6 223.5,697.7 228.5,695.3 233.5,702.8 238.5,707.2 243.5,716.8 248.5,725.5 253.5,726.5 258.5,731.9 263.5,730.1 268.5,735.0 273.5,736.9 278.5,732.4 283.5,725.9 288.5,720.6 293.5,709.9 298.5,704.7 303.5,689.2 308.5,681.9 313.5,680.7 318.5,696.2 323.5,700.3 328.5,698.0 333.5,692.6 338.5,689.4 343.5,685.5 348.5,677.5 353.5,676.6 358.5,679.7 363.5,680.3 368.5,681.9 373.5,690.0 378.5,694.5 383.5,696.9 388.5,692.9 393.5,698.1 398.5,689.8 403.5,689.6 408.5,693.1 413.5,700.9 418.5,706.6 423.5,704.7 428.5,717.1 433.5,724.5 438.5,731.4 443.5,730.3 448.5,722.5 453.5,718.6 458.5,709.2 463.5,699.0 468.5,693.3 473.5,684.2 478.5,675.5 483.5,672.1 488.5,678.1 493.5,685.4 498.5,697.2 503.5,697.7 508.5,691.8 513.5,686.5 518.5,689.8 523.5,692.2 528.5,693.1 533.5,682.4 538.5,674.5 543.5,669.1 548.5,670.0 553.5,666.5 558.5,663.3 563.5,661.3 568.5,663.3 573.5,662.2 578.5,667.0 583.5,677.8 588.5,680.6 593.5,684.0 598.5,692.3 603.5,693.4 608.5,685.8 613.5,677.0 618.5,673.8 623.5,673.4 628.5,669.6 633.5,668.3 638.5,674.5 643.5,688.7 648.5,697.6 653.5,694.5 658.5,703.5 663.5,711.5 668.5,716.2 673.5,717.1 678.5,719.6 683.5,720.9 688.5,724.1 693.5,725.6 698.5,725.5 703.5,727.1 708.5,726.8 713.5,730.7 718.5,735.2 723.5,725.4 728.5,711.9 733.5,700.9 738.5,693.7 743.5,683.8 748.5,676.7 753.5,671.9 758.5,666.7 763.5,674.9 768.5,684.7 773.5,697.4 778.5,705.5 783.5,713.2 788.5,707.0 793.5,714.2 798.5,711.9 803.5,717.9 808.5,726.8 813.5,729.2 818.5,717.2 823.5,705.5 828.5,705.6 833.5,712.1 838.5,712.6 843.5,709.9 848.5,699.3 853.5,686.5 858.5,677.9 863.5,672.0 868.5,670.3 873.5,672.2 878.5,674.4 883.5,675.1 888.5,677.2 893.5,672.0 898.5,677.0 903.5,675.1 908.5,684.3 913.5,679.6 918.5,676.8 923.5,685.9 928.5,687.9 933.5,690.5 938.5,695.6 943.5,695.4 948.5,697.7 953.5,685.8 958.5,679.1 963.5,689.3 968.5,683.6 973.5,677.3 978.5,673.6 983.5,671.8 988.5,672.3 993.5,668.8 998.5,671.3 1003.5,673.0 1008.5,675.9 1013.5,686.8 1018.5,701.6 1023.5,715.9 1028.5,713.7 1033.5,717.1 1038.5,715.0 1043.5,701.7 1048.5,698.9 1053.5,700.1 1058.5,698.0 1063.5,702.3 1068.5,702.1 1073.5,702.9 1078.5,711.2 1083.5,713.7 1088.5,714.2 1093.5,711.0 1098.5,707.6 1103.5,703.8 1108.5,690.4 1113.5,684.1 1118.5,676.4 1123.5,689.9 1128.5,704.4 1133.5,710.7 1138.5,712.4 1143.5,719.4 1148.5,727.6 1153.5,730.9 1158.5,731.7 1163.5,733.2 1168.5,736.1" fill="none" stroke="#ffffff" stroke-width="1" stroke-linejoin="round" shape-rendering="crispEdges"/>
<polyline points="93.5,705.2 98.5,703.9 103.5,698.6 108.5,693.1 113.5,688.3 118.5,686.5 123.5,689.7 128.5,697.3 133.5,705.3 138.5,712.1 143.5,716.8 148.5,718.8 153.5,721.1 158.5,723.1 163.5,724.7 168.5,724.4 173.5,723.1 178.5,718.0 183.5,710.9 188.5,702.2 193.5,694.4 198.5,688.6 203.5,685.0 208.5,685.9 213.5,692.0 218.5,695.2 223.5,696.0 228.5,695.8 233.5,698.1 238.5,701.1 243.5,706.3 248.5,712.7 253.5,717.3 258.5,722.2 263.5,724.8 268.5,728.2 273.5,731.1 278.5,731.5 283.5,729.6 288.5,726.6 293.5,721.1 298.5,715.6 303.5,706.8 308.5,698.5 313.5,692.6 318.5,693.8 323.5,695.9 328.5,696.6 333.5,695.3 338.5,693.3 343.5,690.7 348.5,686.3 353.5,683.1 358.5,681.9 363.5,681.4 368.5,681.6 373.5,684.4 378.5,687.7 383.5,690.8 388.5,691.5 393.5,693.7 398.5,692.4 403.5,691.5 408.5,692.0 413.5,695.0 418.5,698.8 423.5,700.8 428.5,706.2 433.5,712.3 438.5,718.7 443.5,722.6 448.5,722.6 453.5,721.2 458.5,717.2 463.5,711.2 468.5,705.2 473.5,698.2 478.5,690.6 483.5,684.4 488.5,682.3 493.5,683.3 498.5,688.0 503.5,691.2 508.5,691.4 513.5,689.8 518.5,689.8 523.5,690.6 528.5,691.4 533.5,688.4 538.5,683.8 543.5,678.9 548.5,675.9 553.5,672.8 558.5,669.6 563.5,666.8 568.5,665.7 573.5,664.5 578.5,665.3 583.5,669.5 588.5,673.2 593.5,676.8 598.5,682.0 603.5,685.8 608.5,685.8 613.5,682.9 618.5,679.9 623.5,677.7 628.5,675.0 633.5,672.8 638.5,673.4 643.5,678.5 648.5,684.9 653.5,688.1 658.5,693.2 663.5,699.3 668.5,704.9 673.5,709.0 678.5,712.5 683.5,715.3 688.5,718.2 693.5,720.7 698.5,722.3 703.5,723.9 708.5,724.8 713.5,726.8 718.5,729.6 723.5,728.2 728.5,722.8 733.5,715.5 738.5,708.2 743.5,700.1 748.5,692.3 753.5,685.5 758.5,679.2 763.5,677.8 768.5,680.1 773.5,685.9 778.5,692.4 783.5,699.4 788.5,701.9 793.5,706.0 798.5,708.0 803.5,711.3 808.5,716.5 813.5,720.7 818.5,719.6 823.5,714.9 828.5,711.8 833.5,711.9 838.5,712.1 843.5,711.4 848.5,707.4 853.5,700.4 858.5,692.9 863.5,685.9 868.5,680.7 873.5,677.9 878.5,676.7 883.5,676.2 888.5,676.5 893.5,675.0 898.5,675.7 903.5,675.5 908.5,678.4 913.5,678.8 918.5,678.1 923.5,680.7 928.5,683.1 933.5,685.6 938.5,688.9 943.5,691.1 948.5,693.3 953.5,690.8 958.5,686.9 963.5,687.7 968.5,686.3 973.5,683.3 978.5,680.1 983.5,677.3 988.5,675.6 993.5,673.4 998.5,672.7 1003.5,672.8 1008.5,673.8 1013.5,678.2 1018.5,686.0 1023.5,696.0 1028.5,701.9 1033.5,707.0 1038.5,709.7 1043.5,707.0 1048.5,704.3 1053.5,702.9 1058.5,701.3 1063.5,701.6 1068.5,701.8 1073.5,702.1 1078.5,705.2 1083.5,708.0 1088.5,710.1 1093.5,710.4 1098.5,709.4 1103.5,707.6 1108.5,701.8 1113.5,695.9 1118.5,689.4 1123.5,689.6 1128.5,694.5 1133.5,699.9 1138.5,704.1 1143.5,709.2 1148.5,715.3 1153.5,720.5 1158.5,724.3 1163.5,727.2 1168.5,730.2" fill="none" stroke="#ffff00" stroke-width="1" stroke-linejoin="round" shape-rendering="crispEdges"/>
</g>
</svg>
<div class="ll" style="top:14.0px">4440.66</div>
<div class="rl" style="top:14.0px">4440.66</div>
<div class="ll" style="top:69.0px">4366.55</div>
<div class="rl" style="top:69.0px">4366.55</div>
<div class="ll" style="top:124.0px">4292.43</div>
<div class="rl" style="top:124.0px">4292.43</div>
<div class="ll" style="top:180.0px">4218.31</div>
<div class="rl" style="top:180.0px">4218.31</div>
<div class="ll" style="top:235.0px">4144.19</div>
<div class="rl" style="top:235.0px">4144.19</div>
<div class="ll" style="top:290.0px">4070.07</div>
<div class="rl" style="top:290.0px">4070.07</div>
<div class="ll" style="top:346.0px">3995.96</div>
<div class="rl" style="top:346.0px">3995.96</div>
<div class="ll" style="top:401.0px">3921.84</div>
<div class="rl" style="top:401.0px">3921.84</div>
<div class="ll" style="top:478.0px">60.74</div>
<div class="rl" style="top:478.0px">60.74</div>
<div class="ll" style="top:504.0px">35.84</div>
<div class="rl" style="top:504.0px">35.84</div>
<div class="ll" style="top:531.0px">10.94</div>
<div class="rl" style="top:531.0px">10.94</div>
<div class="ll" style="top:557.0px">-13.96</div>
<div class="rl" style="top:557.0px">-13.96</div>
<div class="ll" style="top:584.0px">-38.86</div>
<div class="rl" style="top:584.0px">-38.86</div>
<div class="ll" style="top:633.0px">114.72</div>
<div class="rl" style="top:633.0px">114.72</div>
<div class="ll" style="top:661.0px">84.34</div>
<div class="rl" style="top:661.0px">84.34</div>
<div class="ll" style="top:690.0px">53.96</div>
<div class="rl" style="top:690.0px">53.96</div>
<div class="ll" style="top:718.0px">23.59</div>
<div class="rl" style="top:718.0px">23.59</div>
<div class="t" style="left:91.5px;top:2px;color:#f0f0f0;font-size:12.5px;font-weight:normal;">现货黄金</div>
<div class="t" style="left:139px;top:2px;color:#f0b040;font-size:12.5px;font-weight:normal;">【240分】</div>
<div class="t" style="left:229.5px;top:2px;color:#f0f0f0;font-size:12.5px;font-weight:normal;letter-spacing:-0.2px">EXPMA(5,9,200,50)</div>
<div class="t" style="left:341px;top:2px;color:#f0f0f0;font-size:12.5px;font-weight:normal;">MA1:4189.30</div>
<div class="t" style="left:424.5px;top:2px;color:#e0e020;font-size:12.5px;font-weight:normal;">MA2:4194.92</div>
<div class="t" style="left:507px;top:2px;color:#e030e0;font-size:12.5px;font-weight:normal;">MA3:4104.21</div>
<div class="t" style="left:590px;top:2px;color:#30d030;font-size:12.5px;font-weight:normal;">MA4:4190.48</div>
<div class="t" style="left:93px;top:466px;color:#f0f0f0;font-size:12.1px;font-weight:normal;">MACD(26,12,9)</div>
<div class="t" style="left:182.4px;top:466px;color:#f0f0f0;font-size:12.1px;font-weight:normal;">DIFF:-3.26</div>
<div class="t" style="left:247.5px;top:466px;color:#e0e020;font-size:12.1px;font-weight:normal;">DEA:0.98</div>
<div class="t" style="left:306px;top:466px;color:#e030e0;font-size:12.1px;font-weight:normal;">MACD:-8.49</div>
<div class="t" style="left:92.6px;top:621px;color:#f0f0f0;font-size:12.1px;font-weight:normal;">KDJ(9,3,3)</div>
<div class="t" style="left:153.7px;top:621px;color:#f0f0f0;font-size:12.1px;font-weight:normal;">K:14.73</div>
<div class="t" style="left:203.3px;top:621px;color:#e0e020;font-size:12.1px;font-weight:normal;">D:20.86</div>
<div class="t" style="left:254.6px;top:621px;color:#e030e0;font-size:12.1px;font-weight:normal;">J:2.49</div>
<div class="t" style="left:113px;top:52px;color:#ff2d4d;font-size:12.5px;font-weight:bold;">4381.29</div>
<div class="t" style="left:643px;top:154px;color:#ff2d4d;font-size:12.5px;font-weight:bold;">4244.96</div>
<div class="t" style="left:1003px;top:139px;color:#ff2d4d;font-size:12.5px;font-weight:bold;">4264.43</div>
<div class="t" style="left:277.5px;top:437.5px;color:#3dcf87;font-size:12.5px;font-weight:bold;">3886.51</div>
<div style="position:absolute;left:283px;top:755px;width:1px;height:4px;background:#333"></div>
<div style="position:absolute;left:433px;top:755px;width:1px;height:4px;background:#333"></div>
<div style="position:absolute;left:583px;top:755px;width:1px;height:4px;background:#333"></div>
<div style="position:absolute;left:733px;top:755px;width:1px;height:4px;background:#333"></div>
<div style="position:absolute;left:883px;top:755px;width:1px;height:4px;background:#333"></div>
<div style="position:absolute;left:1033px;top:755px;width:1px;height:4px;background:#333"></div>
<div class="date" style="left:105.5px">10/21</div>
<div class="date" style="left:285.5px">10/29</div>
<div class="date" style="left:435.5px">11/05</div>
<div class="date" style="left:585.5px">11/12</div>
<div class="date" style="left:735.5px">11/19</div>
<div class="date" style="left:885.5px">11/26</div>
<div class="date" style="left:1035.5px">12/03</div>
<div class="t" style="left:30px;top:757px;color:#f0b040;font-size:12.5px;font-weight:bold">240分 <span style="font-size:13.5px;position:relative;top:0px">▲</span></div>
<div class="side" style="top:0px;height:50px;background:#25262c;padding-top:6.5px"><div style="height:14px">分</div><div style="height:14px">时</div><div style="height:14px">图</div></div>
<div class="side" style="top:50px;height:47px;background:#444754;padding-top:5px"><div style="height:14px;font-family:'Liberation Serif',serif;font-size:12px">K</div><div style="height:14px">线</div><div style="height:14px">图</div></div>
<div class="side" style="top:97px;height:52px;background:#25262c;padding-top:8px"><div style="height:14px">闪</div><div style="height:14px">电</div><div style="height:14px">图</div></div>
<div class="side" style="top:149px;height:65px;background:#25262c;padding-top:7.5px"><div style="height:14px">合</div><div style="height:14px">约</div><div style="height:14px">资</div><div style="height:14px">料</div></div>
<div class="tab" style="left:20px;width:40px;color:#cfcfcf;background:#141417">指标</div>
<div class="tab" style="left:60px;width:39px;color:#e8e8e8;background:#444754">模板</div>
<div class="tab" style="left:99px;width:59px;color:#f0b040;background:#141417"><span style='display:inline-block;font-family:"Liberation Mono",monospace;font-size:10.5px;transform:scaleY(1.25)'>VIP</span>指标</div>
<div class="tab" style="left:158px;width:39px;color:#cfcfcf;background:#141417">标准</div>
<div class="tab" style="left:197px;width:40px;color:#cfcfcf;background:#141417"><span style='display:inline-block;font-family:"Liberation Mono",monospace;font-size:10.5px;transform:scaleY(1.25)'>MACD</span></div>
<div class="tab" style="left:237px;width:41px;color:#cfcfcf;background:#141417"><span style='display:inline-block;font-family:"Liberation Mono",monospace;font-size:10.5px;transform:scaleY(1.25)'>BOLL</span></div>
<div class="tab" style="left:278px;width:39px;color:#cfcfcf;background:#141417">一图</div>
<div class="tab" style="left:317px;width:45px;color:#cfcfcf;background:#141417"><span style='display:inline-block;font-family:"Liberation Mono",monospace;font-size:10.5px;transform:scaleY(1.25)'>RSI+B</span></div>
<div class="tab" style="left:362px;width:36px;color:#cfcfcf;background:#141417"><span style='display:inline-block;font-family:"Liberation Mono",monospace;font-size:10.5px;transform:scaleY(1.25)'>ema</span></div>
<div class="tab" style="left:398px;width:63px;color:#e8e8e8;background:#444754">另存模板</div>
<div class="tab" style="left:461px;width:64px;color:#cfcfcf;background:#141417">管理模板</div>
<div class="t" style="left:1158px;top:736px;color:#e8eef8;font-size:28px;line-height:32px;letter-spacing:3.8px;transform:scaleY(1.2);transform-origin:0 0">FX678</div>
</div></body></html>
